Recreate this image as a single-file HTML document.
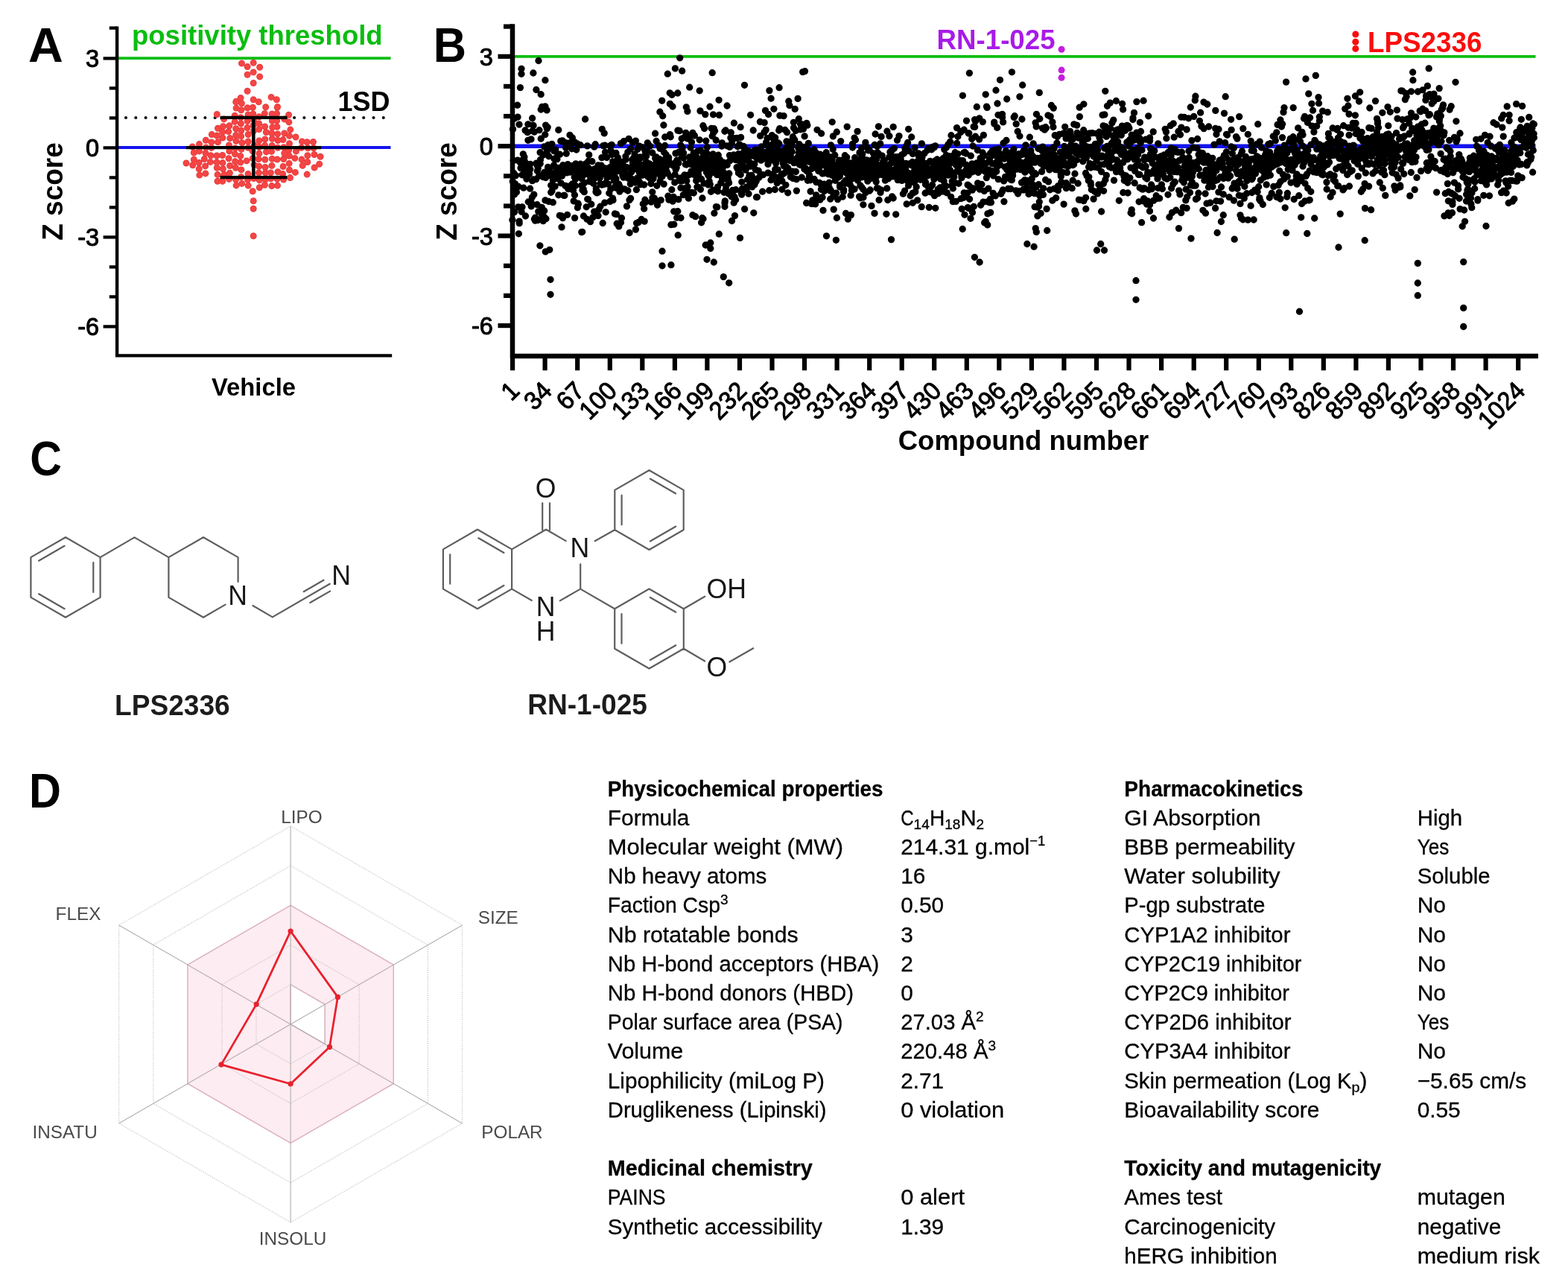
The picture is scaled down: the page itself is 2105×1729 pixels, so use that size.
<!DOCTYPE html>
<html lang="en"><head><meta charset="utf-8"><title>Figure: Z score screen, hit structures and LPS2336 properties</title>
<style>
html,body{margin:0;padding:0;background:#fff}
body{width:2105px;height:1729px;overflow:hidden;font-family:"Liberation Sans",Arial,Helvetica,sans-serif}
svg{display:block;position:absolute;left:0;top:0}
text{font-family:"Liberation Sans",Arial,Helvetica,sans-serif}
.b{font-weight:bold}
.tk{font-size:32.6px;stroke:#000;stroke-width:1px;stroke-linejoin:round}
.at{font-size:35.6px}
.at text{fill:#161616}
.rl{font-size:24.3px}
.rl text{fill:#4a4a4a}
.tb{font-size:29.6px;stroke:#000;stroke-width:.3px}
</style></head><body>
<svg width="2105" height="1729" viewBox="0 0 2105 1729">
<rect width="2105" height="1729" fill="#fff"/>
<g id="panelA"><line x1="158" y1="78.2" x2="524.5" y2="78.2" stroke="#0abd10" stroke-width="3.8"/>
<line x1="158" y1="198.1" x2="524.5" y2="198.1" stroke="#1414ee" stroke-width="4"/>
<line x1="169" y1="158" x2="523" y2="158" stroke="#111" stroke-width="4.2" stroke-linecap="round" stroke-dasharray="0 13.3"/>
<path d="M250 219h0M258.3 197h0M260.3 205h0M260.3 214.2h0M258.7 221.7h0M267.5 193.6h0M267.4 202.9h0M267.1 218.5h0M267.2 226.8h0M267.8 235.1h0M276.3 188.3h0M276.6 197.9h0M276 205.6h0M274.3 213.5h0M275.6 222.9h0M275.9 232.9h0M284.3 180.6h0M283.9 190.9h0M283.9 198.4h0M283 208.8h0M282.4 217.4h0M291.3 153.5h0M292.5 172.3h0M291.1 182.1h0M292.5 190.8h0M291 209h0M291 217.8h0M291.3 225.3h0M292.1 234.4h0M292 243.3h0M300.6 159.9h0M299.5 169.7h0M298.6 177.4h0M298.9 185h0M298.6 208.5h0M298.9 218.6h0M299.4 226.7h0M300.9 234.5h0M298.7 243.3h0M307.9 168.7h0M306.7 176.6h0M308.7 185.6h0M307.5 195h0M307.9 202.9h0M307.1 212.7h0M308.6 222.5h0M308.4 232.3h0M307.5 240.4h0M317 136.3h0M317.1 145.1h0M315.2 155.3h0M315.2 163.4h0M316.7 172.7h0M316.6 181.5h0M316.9 189.2h0M315.8 198.9h0M315.5 206.9h0M315.7 216.7h0M316.4 225.3h0M316.6 241h0M317.1 248.9h0M323.1 131.4h0M324.4 138.8h0M323.8 147.8h0M323.3 157.8h0M323.4 166h0M323.8 175.2h0M323.6 182.9h0M325 191.7h0M324 200.4h0M322.8 209.4h0M322.8 218.1h0M323.9 227.9h0M323.6 237.5h0M324.7 246.4h0M332.1 144.8h0M333.1 153.9h0M332.1 162.6h0M332 171.5h0M333.2 180.5h0M333.2 190h0M333.2 198.2h0M331.1 215.9h0M333.1 233.4h0M332.5 241.3h0M333.2 249.1h0M340.2 133.8h0M339.4 144.2h0M339.8 152.9h0M340.7 160.9h0M340.1 168.3h0M340.5 175.8h0M341.3 195.1h0M339.1 202.8h0M339.3 212.5h0M341 221.2h0M340.7 239.5h0M339.2 256.7h0M347.3 136.8h0M347.9 156.8h0M347.7 165.9h0M347.7 173.6h0M347.8 188.9h0M347.8 197.2h0M347.9 206.1h0M347.1 213.6h0M347.6 223.2h0M347.4 232h0M348.3 241.9h0M348.3 251.8h0M356.7 143.8h0M355.3 152.4h0M355.6 169.9h0M357.3 177.5h0M355.8 186.9h0M355.6 195.2h0M357.5 203.9h0M355.8 214.3h0M356.1 224.5h0M356.3 232h0M356.4 240.9h0M355.4 248.3h0M365.1 152.9h0M365.4 162.3h0M365.7 170.9h0M364.8 178.7h0M365.4 186.3h0M365.2 195.5h0M364.5 203.4h0M365.3 213.3h0M364.9 222.4h0M363.4 231.9h0M363.6 239.7h0M364.8 249.6h0M371.4 133.7h0M372.6 143.5h0M371.6 152.5h0M371.6 162.1h0M371.9 170.3h0M372.6 179.9h0M373 188.5h0M372.9 198.2h0M372.1 214h0M373 230.7h0M372.1 240.2h0M372.5 249.1h0M381.8 159.9h0M381.8 178.9h0M380 187.6h0M380.9 197.8h0M381.8 205.7h0M380.7 213.5h0M380.1 223.5h0M379.6 233.6h0M380.6 241h0M387.6 154.3h0M387.9 163.9h0M389.8 174.1h0M388.5 182.4h0M388.5 192.8h0M387.7 201.4h0M388.3 209.2h0M388.2 219.4h0M388.5 228.3h0M389.5 238.6h0M397 184h0M397.5 203.1h0M395.8 212.4h0M396.4 231.4h0M405.4 189.9h0M404.7 198.2h0M405 214.1h0M406.2 222.2h0M412.1 190.7h0M413.3 198.8h0M412.9 208.8h0M412.8 217.5h0M412.2 234.1h0M420.5 190.5h0M421 198.7h0M422 207.5h0M422.1 225h0M430.1 210.2h0M428.7 220.2h0M324.5 85.1h0M340.2 84.3h0M332.1 89.6h0M348.7 90.3h0M340.2 96.9h0M332.1 100.2h0M348.7 102.9h0M340.2 111.5h0M332.1 122.3h0M340.2 269.8h0M340.2 280.3h0M340.2 316.7h0M364.1 130.4h0M316.7 136.9h0M372.2 144.2h0" fill="none" stroke="#e13c3c" stroke-width="9" stroke-linecap="round"/><path d="M250 219h0M258.3 197h0M260.3 205h0M260.3 214.2h0M258.7 221.7h0M267.5 193.6h0M267.4 202.9h0M267.1 218.5h0M267.2 226.8h0M267.8 235.1h0M276.3 188.3h0M276.6 197.9h0M276 205.6h0M274.3 213.5h0M275.6 222.9h0M275.9 232.9h0M284.3 180.6h0M283.9 190.9h0M283.9 198.4h0M283 208.8h0M282.4 217.4h0M291.3 153.5h0M292.5 172.3h0M291.1 182.1h0M292.5 190.8h0M291 209h0M291 217.8h0M291.3 225.3h0M292.1 234.4h0M292 243.3h0M300.6 159.9h0M299.5 169.7h0M298.6 177.4h0M298.9 185h0M298.6 208.5h0M298.9 218.6h0M299.4 226.7h0M300.9 234.5h0M298.7 243.3h0M307.9 168.7h0M306.7 176.6h0M308.7 185.6h0M307.5 195h0M307.9 202.9h0M307.1 212.7h0M308.6 222.5h0M308.4 232.3h0M307.5 240.4h0M317 136.3h0M317.1 145.1h0M315.2 155.3h0M315.2 163.4h0M316.7 172.7h0M316.6 181.5h0M316.9 189.2h0M315.8 198.9h0M315.5 206.9h0M315.7 216.7h0M316.4 225.3h0M316.6 241h0M317.1 248.9h0M323.1 131.4h0M324.4 138.8h0M323.8 147.8h0M323.3 157.8h0M323.4 166h0M323.8 175.2h0M323.6 182.9h0M325 191.7h0M324 200.4h0M322.8 209.4h0M322.8 218.1h0M323.9 227.9h0M323.6 237.5h0M324.7 246.4h0M332.1 144.8h0M333.1 153.9h0M332.1 162.6h0M332 171.5h0M333.2 180.5h0M333.2 190h0M333.2 198.2h0M331.1 215.9h0M333.1 233.4h0M332.5 241.3h0M333.2 249.1h0M340.2 133.8h0M339.4 144.2h0M339.8 152.9h0M340.7 160.9h0M340.1 168.3h0M340.5 175.8h0M341.3 195.1h0M339.1 202.8h0M339.3 212.5h0M341 221.2h0M340.7 239.5h0M339.2 256.7h0M347.3 136.8h0M347.9 156.8h0M347.7 165.9h0M347.7 173.6h0M347.8 188.9h0M347.8 197.2h0M347.9 206.1h0M347.1 213.6h0M347.6 223.2h0M347.4 232h0M348.3 241.9h0M348.3 251.8h0M356.7 143.8h0M355.3 152.4h0M355.6 169.9h0M357.3 177.5h0M355.8 186.9h0M355.6 195.2h0M357.5 203.9h0M355.8 214.3h0M356.1 224.5h0M356.3 232h0M356.4 240.9h0M355.4 248.3h0M365.1 152.9h0M365.4 162.3h0M365.7 170.9h0M364.8 178.7h0M365.4 186.3h0M365.2 195.5h0M364.5 203.4h0M365.3 213.3h0M364.9 222.4h0M363.4 231.9h0M363.6 239.7h0M364.8 249.6h0M371.4 133.7h0M372.6 143.5h0M371.6 152.5h0M371.6 162.1h0M371.9 170.3h0M372.6 179.9h0M373 188.5h0M372.9 198.2h0M372.1 214h0M373 230.7h0M372.1 240.2h0M372.5 249.1h0M381.8 159.9h0M381.8 178.9h0M380 187.6h0M380.9 197.8h0M381.8 205.7h0M380.7 213.5h0M380.1 223.5h0M379.6 233.6h0M380.6 241h0M387.6 154.3h0M387.9 163.9h0M389.8 174.1h0M388.5 182.4h0M388.5 192.8h0M387.7 201.4h0M388.3 209.2h0M388.2 219.4h0M388.5 228.3h0M389.5 238.6h0M397 184h0M397.5 203.1h0M395.8 212.4h0M396.4 231.4h0M405.4 189.9h0M404.7 198.2h0M405 214.1h0M406.2 222.2h0M412.1 190.7h0M413.3 198.8h0M412.9 208.8h0M412.8 217.5h0M412.2 234.1h0M420.5 190.5h0M421 198.7h0M422 207.5h0M422.1 225h0M430.1 210.2h0M428.7 220.2h0M324.5 85.1h0M340.2 84.3h0M332.1 89.6h0M348.7 90.3h0M340.2 96.9h0M332.1 100.2h0M348.7 102.9h0M340.2 111.5h0M332.1 122.3h0M340.2 269.8h0M340.2 280.3h0M340.2 316.7h0M364.1 130.4h0M316.7 136.9h0M372.2 144.2h0" fill="none" stroke="#f64444" stroke-width="7.2" stroke-linecap="round"/>
<g stroke="#000" stroke-width="4.2" fill="none"><line x1="340.3" y1="157.8" x2="340.3" y2="238.2" stroke-width="4.6"/><line x1="295.5" y1="157.8" x2="385.5" y2="157.8"/><line x1="295.5" y1="238.2" x2="385.5" y2="238.2"/><line x1="250" y1="198.1" x2="431" y2="198.1"/></g>
<g stroke="#000" stroke-width="4.3" fill="none"><path d="M157.1 35.6V477.4H526.2" stroke-width="4.4"/><line x1="146.8" y1="37.6" x2="157.2" y2="37.6"/><line x1="138.6" y1="78.4" x2="157.2" y2="78.4"/><line x1="146.8" y1="118.4" x2="157.2" y2="118.4"/><line x1="146.8" y1="158.4" x2="157.2" y2="158.4"/><line x1="138.6" y1="198.4" x2="157.2" y2="198.4"/><line x1="146.8" y1="238.4" x2="157.2" y2="238.4"/><line x1="146.8" y1="278.4" x2="157.2" y2="278.4"/><line x1="138.6" y1="318.4" x2="157.2" y2="318.4"/><line x1="146.8" y1="358.4" x2="157.2" y2="358.4"/><line x1="146.8" y1="398.4" x2="157.2" y2="398.4"/><line x1="138.6" y1="438.4" x2="157.2" y2="438.4"/></g>
<text class="tk" text-anchor="end" transform="translate(133.2 90.2) scale(1 1.04)">3</text>
<text class="tk" text-anchor="end" transform="translate(133.2 210.2) scale(1 1.04)">0</text>
<text class="tk" text-anchor="end" transform="translate(133.2 330.2) scale(1 1.04)">-3</text>
<text class="tk" text-anchor="end" transform="translate(133.2 450.2) scale(1 1.04)">-6</text>
<text class="b" font-size="36.5" fill="#0abd10" x="177" y="59.5">positivity threshold</text>
<text class="b" font-size="36" text-anchor="end" transform="translate(523.5 148.7) scale(1 1.04)">1SD</text>
<text class="b" font-size="32.8" text-anchor="middle" transform="translate(340.5 530.7) scale(1 1.02)">Vehicle</text>
<text class="b" font-size="37" text-anchor="middle" transform="translate(83.5 257) rotate(-90) scale(1 1.03)">Z score</text>
<text class="b" font-size="62.3" transform="translate(38 82.7) scale(1.04 1.055)">A</text></g>
<g id="panelB"><line x1="689" y1="75.8" x2="2061.5" y2="75.8" stroke="#0abd10" stroke-width="3.8"/>
<line x1="689" y1="196.2" x2="2061.5" y2="196.2" stroke="#1414ee" stroke-width="5.5"/>
<path d="M688.3 243.5h0M687.9 295.2h0M688.5 173.4h0M689.6 259.8h0M689.6 232.3h0M689.2 215.5h0M690.4 159.2h0M690.7 260.9h0M690.6 284.6h0M691.7 246.8h0M692.4 235.6h0M692.1 253.8h0M693.1 250.5h0M693.2 252.3h0M693.4 257.9h0M694.8 215.2h0M695 157.1h0M694.6 141.2h0M696 250.5h0M696.4 313.8h0M695.7 277.8h0M697 167.1h0M697.1 297.1h0M697.2 299.7h0M699 225.6h0M698.4 218.2h0M698.4 117.6h0M698.7 215.9h0M699.7 217.4h0M700 92.3h0M700.1 284.3h0M700.9 234.8h0M701.4 234.8h0M701 277.9h0M702.9 252.2h0M702.6 219h0M702.3 206.8h0M704.1 229.6h0M703.9 210.7h0M704.2 216.1h0M705.1 175h0M705 226.2h0M705.5 290h0M706.9 240.3h0M706.5 223.1h0M706.3 223.6h0M708.1 235.9h0M708.2 177.7h0M707.7 233.7h0M708.9 166.8h0M709.2 220.9h0M708.9 188.3h0M709.3 271h0M710.7 270.9h0M710.4 224.4h0M710.6 233.4h0M711.8 220.3h0M711.6 253.2h0M711.8 227.2h0M713.2 276.9h0M713 186.9h0M713.2 271.7h0M714.4 264.7h0M714.6 158.7h0M714.6 242.7h0M714.7 175.8h0M716 241h0M716.1 168.5h0M715.5 168.1h0M715.9 98h0M717.3 177.1h0M717.4 294.1h0M716.8 261.1h0M718.7 294.6h0M718.5 296.2h0M718.7 292.1h0M719.9 219.2h0M719.6 240.7h0M719.9 120.5h0M721 221.8h0M721.1 274.7h0M721.4 229.5h0M722.3 225.8h0M722.8 283.9h0M722.2 295.5h0M723.9 236.1h0M723.4 236.5h0M724 174.7h0M725.2 219.7h0M725.1 204.6h0M725.5 214.5h0M726.2 126.7h0M726.2 147h0M726.2 186.2h0M727.8 143.3h0M727.3 278.4h0M727.6 288.8h0M729.2 296.6h0M728.9 208.3h0M729.4 237.6h0M730.7 283h0M730.7 291.4h0M730.6 196.9h0M730.6 231.5h0M732 143h0M732 268.9h0M731.8 180.7h0M731.9 107.7h0M732.6 238.5h0M732.6 168.1h0M733 293.7h0M733.2 231h0M734.3 203.2h0M734.1 147.9h0M734.3 172.7h0M735.8 194.6h0M735.2 170.8h0M735.6 224.4h0M736.6 270.5h0M737.1 227.2h0M736.7 209.8h0M737.9 235.4h0M738.5 225.5h0M738.4 195.8h0M739.7 248.8h0M739.7 258.3h0M739.5 198h0M740.7 235h0M741 256.4h0M740.9 193.3h0M742.3 271.7h0M742.3 241.8h0M742.3 233.5h0M743.9 213.1h0M743.7 202.7h0M743.9 232.8h0M743.6 221.8h0M745.1 238.5h0M745.2 250.1h0M744.9 233.9h0M745.8 200.9h0M746 233.5h0M746.2 232.2h0M746.3 230.7h0M747.4 228.5h0M747.3 231.5h0M747.9 213.7h0M748.8 208h0M749.1 225.4h0M748.5 239.6h0M749.8 261.8h0M749.8 174.5h0M750.1 233.1h0M751.3 289.3h0M751.1 228.6h0M751.6 207.2h0M752.4 231.1h0M753.1 245.8h0M752.8 189.4h0M754 304.9h0M753.8 290h0M754.5 236.2h0M755.7 221.7h0M755.5 292.6h0M755.2 189h0M756.5 232.6h0M756.7 232.6h0M757 262.4h0M756.5 225.4h0M758.3 226.9h0M758.1 225.2h0M758 191.1h0M757.9 262.5h0M759.7 231.4h0M759 249.4h0M759.5 198.2h0M760.3 206.1h0M761.1 231.8h0M760.7 195.5h0M762.2 220.6h0M761.6 288.3h0M761.8 229.4h0M763.4 250.2h0M763.2 192.1h0M762.9 253.7h0M764.9 231.2h0M765 181.3h0M765 222.9h0M765.9 223h0M766 222.6h0M766.3 252.7h0M767.2 192h0M766.9 192.6h0M767.6 199.8h0M768.4 246.9h0M768.7 229.1h0M768.4 185h0M770.2 269.9h0M769.5 255.5h0M769.7 226.4h0M769.9 222.3h0M771.5 261.7h0M771.6 190.8h0M771.2 237.8h0M771.6 292.6h0M772.9 219.8h0M772.5 240.5h0M772.5 225.3h0M772.5 249.2h0M773.8 201h0M774.1 229.8h0M774.1 229h0M775.4 278.7h0M775.5 230.1h0M775.1 193h0M776.4 274.3h0M776.8 222.3h0M776.5 237.3h0M776.1 273.2h0M777.5 227.9h0M777.7 231.6h0M777.7 228h0M779.3 220.2h0M778.9 231.4h0M779.2 194.7h0M780.6 249h0M780.6 222.6h0M780.8 311.6h0M780.8 239.7h0M781.7 311.3h0M781.6 237.6h0M782 255.3h0M783.1 228.7h0M783.5 290h0M783.2 253.8h0M784.6 245.5h0M784.6 222.6h0M784.2 230.9h0M784.3 257.7h0M785.6 160h0M785.4 233.6h0M786.1 220h0M787 228.4h0M787.2 277.8h0M786.9 230.4h0M787.1 227h0M788.5 195.9h0M788.7 267.3h0M788.3 233.3h0M788 294.2h0M789.9 225.3h0M789.8 216.5h0M789.5 267.6h0M790.7 207.9h0M791.2 243.5h0M791.1 228.1h0M792.5 297.7h0M792.3 236.6h0M792.6 232.3h0M793.8 274.2h0M793.8 231.1h0M793.4 243.6h0M795 229h0M795.4 231.7h0M794.9 216.7h0M796.3 235.4h0M796.6 246.3h0M795.9 291.8h0M797.8 197.2h0M797.7 284.1h0M797.3 231.9h0M797.9 226.9h0M799.3 231.7h0M799.2 193.7h0M799.2 238.6h0M800.4 236.5h0M800 257.6h0M800.3 253.1h0M801.4 258.9h0M801.9 234.4h0M801.4 231h0M803.1 221.8h0M803 289.6h0M803 258.2h0M803.9 281.4h0M804.2 233.3h0M804.1 230.6h0M803.9 236h0M805.9 277.2h0M805.8 246.6h0M805.2 239h0M805.3 232.6h0M807.1 229.3h0M807.1 222.1h0M806.8 227.5h0M808.3 173.4h0M807.9 211.6h0M808.1 248.2h0M809.9 195.6h0M809.9 233.1h0M809.2 299.5h0M811.2 178.9h0M811.2 228.6h0M810.9 247.4h0M810.6 228.4h0M811.8 272.1h0M812 195.1h0M812.4 225.9h0M812.5 204.3h0M813.5 234.7h0M813.6 245h0M813.2 284.8h0M814.9 230.7h0M814.6 211.5h0M814.7 227.4h0M815 238.3h0M816.3 237.7h0M816.2 236.2h0M816.5 247.1h0M817.3 237.2h0M817.8 259.3h0M817.4 234.5h0M819 270.4h0M818.9 226.5h0M819 195.7h0M818.7 224.7h0M820 202.1h0M819.8 254h0M819.8 236.1h0M821.2 194.3h0M821.8 225h0M821.5 207.5h0M823 268.7h0M822.8 220.1h0M822.5 266.1h0M822.7 216.8h0M823.9 229.1h0M824 222.4h0M824.3 242.4h0M825.2 237.1h0M825.4 287h0M825.4 250.8h0M826.9 252.1h0M827 240h0M827 205.5h0M828.2 300.2h0M827.7 226.1h0M827.6 287.7h0M829.3 229.6h0M829.4 211.6h0M829.7 215.7h0M829.4 218.4h0M830.9 216.1h0M830.8 247.2h0M830.8 303.9h0M831 220.4h0M832.3 222.1h0M831.9 257.1h0M832.1 250.4h0M833.1 218.5h0M833.5 298.8h0M833.4 192.6h0M834.3 230.1h0M834.7 225.4h0M834.6 217.5h0M834.5 292.7h0M836 231.7h0M835.7 223.6h0M835.8 235.6h0M836.9 222.3h0M837.5 189.6h0M836.9 233.7h0M837 238.1h0M838.2 236.4h0M838.6 229.7h0M838.4 253.8h0M839.9 210h0M840.1 214.2h0M839.8 237.3h0M841.3 236.3h0M841.5 276.9h0M841.4 224.7h0M842.4 238.8h0M842.9 256h0M842.8 204.2h0M843.9 235.3h0M844.1 186.3h0M844.1 235.5h0M845.1 312.5h0M845 268.6h0M845.5 240.8h0M846.6 266.4h0M846.4 246.9h0M846.5 200h0M847.7 239.8h0M847.6 230.9h0M848.2 223.9h0M848.9 214.2h0M849.3 191.3h0M849.4 217.7h0M850.5 212.4h0M850.3 220.6h0M850.6 223.3h0M851.6 227h0M852 207.1h0M851.8 222.6h0M852 224.2h0M853.4 189.1h0M853.2 245.2h0M853.4 308.1h0M854.4 254.7h0M854.6 299.6h0M854.4 220.8h0M855.8 225h0M855.8 218.1h0M855.8 200.4h0M855.6 239h0M857.1 298.5h0M856.7 224.3h0M857.2 228.7h0M858.2 221.6h0M858.3 196.1h0M858.3 243.9h0M858.3 231.5h0M859.4 212.7h0M859.9 247.7h0M859.3 211h0M861.1 294.5h0M861.2 221.5h0M860.8 232.7h0M862.5 235.3h0M862.3 197.8h0M861.9 235.2h0M862.2 229.2h0M863.3 223.7h0M863.4 225.2h0M863.3 273.8h0M865.2 297.1h0M864.7 280.2h0M864.7 248h0M864.8 209.7h0M865.9 268.2h0M866 202.7h0M866 271.9h0M867.5 228.1h0M867.6 209.7h0M867.5 217.2h0M868.6 203h0M868.5 232.5h0M869.3 191.8h0M870.4 193.8h0M869.9 237.3h0M870 224.4h0M871.8 233.7h0M871.4 237h0M871.9 219.8h0M872.5 196.1h0M872.7 239.4h0M873.1 230.5h0M872.6 230.1h0M874 224.8h0M874.2 271.1h0M873.9 246.5h0M875.9 265.6h0M875.6 235.7h0M875.8 257.8h0M875.8 205.2h0M876.4 233h0M877.2 238.7h0M876.7 227.9h0M876.6 240.3h0M878.4 266h0M877.8 223.4h0M878.4 234h0M879.8 268.5h0M879.1 220.7h0M879.7 212.6h0M879.6 179.2h0M881.1 230.8h0M881.1 210.9h0M880.6 221.6h0M881.1 189.5h0M881.9 249.3h0M882.2 231.8h0M882.5 275.3h0M883.3 230.4h0M883.6 232.7h0M883.4 218.1h0M884.6 195.5h0M884.8 221.7h0M885 213.4h0M886.1 199.4h0M886.1 243.4h0M885.9 150.2h0M887.2 268.6h0M887.4 237.6h0M887.5 230.8h0M887.2 237.3h0M888.7 221.5h0M888.5 224.9h0M889.1 236.7h0M888.7 135.1h0M889.7 155.7h0M890.3 232.2h0M890.1 224.2h0M891.4 204.3h0M891.5 214.6h0M890.9 168h0M891.2 247.1h0M892.6 217.4h0M892.7 195.5h0M892.3 219.9h0M892.7 184h0M894 207.3h0M893.6 229.8h0M893.7 229.9h0M895 222.4h0M895 223.3h0M895 230.1h0M896.9 263.2h0M896.3 99.2h0M896.4 233h0M896.6 216.7h0M897.9 268.1h0M897.8 215.9h0M897.7 211.5h0M899.4 180.6h0M899.4 139.4h0M899.2 124.8h0M900.9 301.7h0M900.3 237.7h0M900.2 183.8h0M902.1 127.3h0M902.3 221.1h0M901.8 254.7h0M903 143h0M903.1 270.2h0M903.6 222.3h0M902.9 265h0M904.2 264.3h0M904.7 283.8h0M904.8 301.2h0M906.1 234.2h0M906.2 218.8h0M905.8 244.9h0M907.3 220.5h0M907.3 223.1h0M907.2 227.4h0M907 205.9h0M908.7 292.2h0M908.9 215.1h0M908.2 224.9h0M908.1 216.8h0M910.2 315.7h0M909.8 125h0M909.8 283.7h0M909.9 175.1h0M910.9 267.7h0M911.3 204.2h0M910.8 218.9h0M912.3 239.2h0M912.8 242.8h0M912.2 175.6h0M914 292.5h0M914 252.2h0M913.7 194.9h0M915.4 197.5h0M915.2 186.1h0M915.4 210.1h0M916.1 198.9h0M916.1 238.4h0M916.1 242.8h0M917.6 205.4h0M917.5 212.3h0M917.3 261.6h0M919 252.8h0M919.1 184.1h0M918.7 238.8h0M919 234.8h0M920.3 220.7h0M920.7 178.3h0M920.4 254.7h0M921.8 220.2h0M921.4 221h0M921.3 143.8h0M921.8 242.8h0M922.9 149.4h0M922.7 260.2h0M922.8 186h0M923.1 250.7h0M924.4 266.2h0M924.6 258.7h0M924.3 234.9h0M925.9 184h0M925.7 117.2h0M925.5 210.9h0M925.7 217.7h0M927 220.3h0M927 198.2h0M927.1 233.8h0M928.5 190.8h0M928.4 258.4h0M928.1 229.9h0M929.9 178.3h0M929.9 288.7h0M929.7 216.5h0M931.2 205.3h0M931.3 259h0M931.3 234.2h0M932.4 182h0M931.9 209.9h0M932 223.1h0M933.5 221.5h0M933.3 226.4h0M933.6 290.7h0M934.7 242.6h0M934.6 210.2h0M935 217.9h0M935.1 238.6h0M935.9 251h0M936.2 203.2h0M936.6 225.5h0M936.1 212.8h0M937.8 228.6h0M937.5 251.3h0M937.7 234.9h0M938.6 228.1h0M939.1 187.8h0M939.2 121.8h0M940.4 254.3h0M940 148.9h0M940.4 201.9h0M941.6 240.5h0M941.2 214.7h0M941.6 298.8h0M942.9 266h0M943 221h0M942.8 292.6h0M944.1 208.7h0M943.9 168.7h0M944 293.8h0M945.1 246.2h0M945.4 207.1h0M945.2 225.5h0M945.6 172.5h0M947.1 205.1h0M947.1 217.4h0M946.8 153.6h0M946.4 211.3h0M948.4 231.1h0M947.8 222.1h0M947.8 189.1h0M949.7 227.4h0M949.2 206h0M949.4 197.7h0M950.5 222.1h0M950.6 234.9h0M950.7 248h0M951.8 236.4h0M952.2 243.2h0M952.3 222.4h0M953.1 217.8h0M953 143.2h0M953.3 247.5h0M953.2 213.6h0M954.9 223.4h0M954.5 257.3h0M955 172.3h0M955.8 231.8h0M956.2 97.7h0M956.2 182.7h0M957.7 178.2h0M957.5 255.1h0M957.5 153.8h0M957.2 206.9h0M958.5 210.8h0M958.9 286.2h0M958.3 172.6h0M960 222.2h0M960 228.7h0M959.6 175.8h0M961.2 217.7h0M961.4 277.6h0M961.2 188.2h0M962.8 223.9h0M962.6 234.6h0M962.8 278h0M964.3 208.2h0M963.9 210.9h0M963.6 250.9h0M963.7 256.8h0M965.3 314.2h0M965.5 154.5h0M965.1 134.3h0M966.9 232.6h0M966.2 232.6h0M966.4 214.4h0M967.8 230h0M968.1 221.5h0M967.8 245.4h0M969.5 239.7h0M969.3 191.9h0M968.9 196.1h0M970.5 224.5h0M970.4 230.3h0M970.8 217.8h0M971.5 240.2h0M972.2 232.4h0M972 258.3h0M972.9 176.3h0M973 272.4h0M973 277.3h0M973.3 269.9h0M974.2 175h0M974.4 254.4h0M974.7 250h0M976.2 221.4h0M976.1 142h0M976 195.8h0M976.8 218.5h0M977.4 241.7h0M977 237.9h0M978.6 245.4h0M978.8 233h0M978.1 260h0M979.7 215.9h0M979.5 208.6h0M980 208.8h0M979.6 197.4h0M981.3 178h0M980.9 185.1h0M981.2 214h0M982.5 296.5h0M982.6 191.6h0M982.1 264h0M983.6 255.4h0M983.9 262h0M983.9 212h0M984.9 208h0M985.2 272.2h0M985.2 185.6h0M985.4 165.2h0M986.7 214.1h0M986.5 289.6h0M986.1 264.4h0M987.6 268.2h0M988 214.7h0M987.8 254.7h0M989.2 185.4h0M989.1 224.6h0M988.8 213.8h0M990.3 196.8h0M990.2 226.8h0M990.2 211.5h0M991.3 206.7h0M992 215.6h0M991.4 232.2h0M992.7 224.4h0M992.9 227.4h0M992.6 193.9h0M992.8 215.6h0M994.6 184.4h0M994.1 170.7h0M994.6 212.8h0M994.2 234.4h0M995.7 261.1h0M995.7 221.3h0M995.3 259h0M995.8 244.3h0M996.5 196.2h0M996.5 253.4h0M996.6 217.9h0M997.2 217.5h0M998.2 196.5h0M998.2 204.6h0M998.6 207.2h0M999.6 280.6h0M999.5 114.3h0M999.9 208.3h0M1001.1 201.2h0M1000.8 224.6h0M1000.6 208h0M1001.1 228.1h0M1002.3 251h0M1002.3 210.9h0M1002.1 254.7h0M1003.5 205.9h0M1003.6 241h0M1003.5 208.6h0M1004.9 216.2h0M1005.2 202.8h0M1005 260.2h0M1006.3 204.2h0M1005.9 235.7h0M1006 217.7h0M1007.3 223.3h0M1007.6 154.3h0M1007.6 246.3h0M1008.7 219.6h0M1008.9 235.3h0M1008.7 243.2h0M1009.8 250.9h0M1009.8 209h0M1010.3 238.4h0M1011.2 175h0M1011 203.9h0M1011.7 207.8h0M1011.8 285.8h0M1012.8 205.4h0M1012.9 220.1h0M1013.1 247.6h0M1014.3 227.8h0M1013.9 200.8h0M1014.3 204.9h0M1015.5 264.7h0M1015.4 211.7h0M1015.3 243.1h0M1016.4 264.6h0M1016.4 213.2h0M1016.4 208.6h0M1018.3 229.2h0M1018.4 210.2h0M1017.7 209.7h0M1019.4 202.1h0M1019 238.2h0M1019.6 203.7h0M1021 234.6h0M1020.4 163.5h0M1020.7 182.4h0M1022.2 197h0M1021.7 215.1h0M1022.3 210h0M1023.6 257.2h0M1023.1 206.8h0M1023 205.5h0M1024.4 234.7h0M1024.8 213.4h0M1024.4 212.1h0M1025.8 210.4h0M1026.1 177.4h0M1026.2 164.6h0M1027.6 204.5h0M1027.1 205.7h0M1027.5 148.4h0M1028.5 191.2h0M1028.2 174.4h0M1028.7 211.4h0M1030 185.6h0M1029.7 212.6h0M1029.8 206.6h0M1031 220.4h0M1031.6 153.5h0M1031.1 232.1h0M1031.3 196.4h0M1032.5 197.2h0M1032.8 216.8h0M1032.9 121.6h0M1032.7 255.7h0M1033.8 204.9h0M1033.5 203.7h0M1033.8 214.2h0M1035 241.7h0M1035.4 184h0M1035.1 132.2h0M1036.2 214h0M1036.3 181.6h0M1036.7 194h0M1036.5 239.6h0M1038.1 233.5h0M1038.2 202.8h0M1038.1 203.7h0M1039.3 209.4h0M1039.2 187.3h0M1038.9 146.3h0M1040.4 210.5h0M1040.3 254.5h0M1040.7 227.2h0M1040.7 184.7h0M1041.8 204.4h0M1041.6 219.1h0M1041.7 213.9h0M1043.2 245.7h0M1043.4 200h0M1043.1 201.5h0M1044.3 227.8h0M1044.2 238.3h0M1044.6 191.8h0M1046.1 117.7h0M1045.9 193.1h0M1045.8 213h0M1045.7 175h0M1046.9 155.1h0M1047 210.4h0M1046.7 172.6h0M1048.2 236.2h0M1048.5 205.9h0M1048.7 206.5h0M1049.9 254.3h0M1049.8 242.9h0M1049.7 203.4h0M1051.3 233.4h0M1051.3 219.2h0M1050.6 204.4h0M1052.1 155.6h0M1052.2 222.6h0M1052.5 217.7h0M1052.4 207.9h0M1053.8 231.8h0M1053.6 214.5h0M1053.9 174.5h0M1053.9 223.4h0M1054.7 199.9h0M1054.9 248.3h0M1054.7 214.9h0M1055 198.6h0M1056.6 177.7h0M1056 226.8h0M1055.9 189.8h0M1056.1 224.3h0M1057.3 208.3h0M1057.7 214.6h0M1057.8 225.8h0M1057.7 258.8h0M1059 214.3h0M1058.8 136h0M1058.9 198.4h0M1059.9 141.5h0M1060.1 229.6h0M1060.3 215.5h0M1060.3 190.2h0M1061.4 237.4h0M1061.2 204.9h0M1061.3 209.5h0M1061.5 198h0M1063.2 203.7h0M1062.8 196.1h0M1062.7 203.9h0M1063.2 194.7h0M1064 230.2h0M1064.6 239.4h0M1064.4 183.7h0M1065.9 218.6h0M1065.3 185.8h0M1065.5 171.6h0M1065.4 164.3h0M1066.5 214.7h0M1067.2 146.4h0M1066.8 187.9h0M1068.2 175.4h0M1068 216h0M1068.4 215.4h0M1068.4 230.5h0M1069.6 213.6h0M1069.4 256.1h0M1069.3 240.7h0M1070.5 211.5h0M1070.7 213.2h0M1071.1 132.4h0M1072.3 205.2h0M1072.3 159.6h0M1071.9 198.9h0M1071.9 210.6h0M1073.5 219.8h0M1073.3 221h0M1073.1 193.7h0M1074.9 200.3h0M1074.5 166.4h0M1074.4 173.9h0M1075.1 221.7h0M1076.3 238.2h0M1076.3 199.6h0M1076.1 170.2h0M1077.6 215.4h0M1077.7 96.6h0M1077.4 167.2h0M1078.5 173.1h0M1078.4 197.3h0M1079.1 199.7h0M1080.1 182.9h0M1079.9 227h0M1080.3 210.1h0M1079.7 207.1h0M1081.1 225.6h0M1081.1 217.2h0M1081.5 213.1h0M1082.9 165.4h0M1082.6 272.5h0M1082.9 229.5h0M1084.3 200.5h0M1083.9 168.2h0M1084.3 242.3h0M1085.3 192.4h0M1085.3 216.1h0M1085.6 206h0M1086.6 213.6h0M1086.4 237.7h0M1086.6 235h0M1086.3 217.2h0M1088.3 214.9h0M1088.3 205.1h0M1088.1 257h0M1087.9 241.8h0M1089.5 214.6h0M1089.2 273.4h0M1089.6 226.5h0M1090.4 273.5h0M1090.8 268.8h0M1090.7 203.6h0M1090.2 219.2h0M1092.3 213.8h0M1092.2 207.8h0M1091.9 223.2h0M1093.2 267.9h0M1093 240.4h0M1092.9 200.7h0M1094.3 203.6h0M1094.9 204.3h0M1094.7 222.9h0M1094.6 273.9h0M1095.8 244.5h0M1096.1 213.7h0M1095.7 261.8h0M1097 226.2h0M1096.9 221.5h0M1097 174.3h0M1098.5 212.4h0M1098.8 229.5h0M1098.2 217.3h0M1099.8 225.4h0M1100.1 245.3h0M1099.6 208h0M1100.9 216.9h0M1101 220.7h0M1100.9 268.2h0M1101 207.2h0M1102.6 248.5h0M1102.6 179.2h0M1102.4 254.3h0M1103.8 264.6h0M1103.7 221.1h0M1104 264.9h0M1104.1 233h0M1105.4 214.3h0M1105 282.4h0M1105.5 218.2h0M1105 250h0M1106.2 232.7h0M1106 211.8h0M1106.3 247.2h0M1106.7 256.5h0M1107.4 218.5h0M1107.6 221.1h0M1107.6 215.3h0M1108.1 214.2h0M1109.5 224.1h0M1109.3 249.2h0M1109.2 204.7h0M1110.8 220.7h0M1110.1 214.7h0M1110.2 227.1h0M1112.1 233.8h0M1111.8 229.7h0M1111.9 215.1h0M1111.9 221.5h0M1113.3 252h0M1113.4 254.5h0M1113.1 245.2h0M1114.4 256h0M1114.7 267.2h0M1114.1 226h0M1114.2 210.8h0M1116 231.2h0M1115.5 255.9h0M1115.4 194.8h0M1117 235.3h0M1117 210.6h0M1117.2 214.5h0M1117.2 163.8h0M1118.6 263.5h0M1118.4 228.3h0M1118.4 182.9h0M1118.2 200.4h0M1120 231.5h0M1119.3 221.2h0M1119.2 281.1h0M1121.3 242.3h0M1120.8 208.2h0M1120.8 233.9h0M1122.5 222.5h0M1122.7 259.2h0M1122.1 225.7h0M1123.2 235.1h0M1123.3 177.2h0M1123.4 292.5h0M1124.5 226h0M1125.3 238.2h0M1124.6 267.6h0M1126.5 216.1h0M1126.6 215.2h0M1126 218.6h0M1127.6 248.6h0M1127.4 236.6h0M1127.5 229.5h0M1127.5 251h0M1128.7 189.6h0M1128.7 227.1h0M1128.6 222h0M1130.5 215.1h0M1130 231.1h0M1130.4 222.7h0M1131.4 221.8h0M1131.2 264.2h0M1131.2 216.1h0M1133.1 222.1h0M1132.6 245.3h0M1132.7 254.8h0M1132.5 257.2h0M1133.8 225.4h0M1134.3 208.7h0M1133.8 224.1h0M1135.1 242.4h0M1135.2 246.2h0M1135.5 286.5h0M1136.5 216.9h0M1136.7 211.1h0M1137.2 170.1h0M1136.8 232.8h0M1138 219.9h0M1137.8 224.8h0M1138.4 294.1h0M1139.5 224.3h0M1139.8 229.6h0M1139.1 238.7h0M1140.6 233h0M1141.1 247.7h0M1140.5 222.3h0M1142.4 288.6h0M1142.1 262.2h0M1141.9 218.9h0M1143.5 255.7h0M1143 224.2h0M1143.7 240.3h0M1143.6 251.8h0M1145 226.2h0M1144.5 198h0M1144.5 193.3h0M1145.8 232.5h0M1146.4 232.6h0M1145.9 218.8h0M1147.1 253.9h0M1147.1 185.1h0M1147.6 211.7h0M1148.6 235.8h0M1149.1 233.2h0M1148.5 187.8h0M1148.4 233.7h0M1150.3 222h0M1150.1 215.5h0M1149.7 221.2h0M1151.4 223.2h0M1151.1 176.4h0M1151.5 242.1h0M1152.5 217.8h0M1152.7 231h0M1152.9 230.4h0M1152.9 222.3h0M1153.8 216.5h0M1153.6 214h0M1154 204.9h0M1153.6 263.9h0M1154.9 249h0M1155.5 231.4h0M1154.9 265.8h0M1156.6 198.7h0M1156.9 237.9h0M1156.9 251.5h0M1157.8 206.5h0M1157.7 211.6h0M1158.1 216.2h0M1158 224.5h0M1158.9 254.3h0M1159 265h0M1158.9 274.8h0M1160.6 223.3h0M1160.9 236.5h0M1160.4 228.6h0M1161.9 191.4h0M1162 258.6h0M1161.7 234.6h0M1163.4 227.2h0M1163.4 214.8h0M1163.5 236.9h0M1164.5 198.5h0M1164.5 240.4h0M1164.8 243.1h0M1166 237.1h0M1165.8 201.9h0M1165.8 241.3h0M1166.1 232.9h0M1167.2 256.2h0M1167.3 226.6h0M1167 216h0M1167.2 201.5h0M1168.1 219.6h0M1168.7 231.1h0M1168.4 239.9h0M1168.2 255h0M1169.8 219.8h0M1170 276.4h0M1169.5 222.3h0M1170.9 218.8h0M1171.4 230.1h0M1171 232.5h0M1172.6 212.7h0M1172.4 205.8h0M1172.6 233.8h0M1172.6 219.4h0M1174.1 194.5h0M1174.1 218h0M1174 286.4h0M1175.2 227.4h0M1175.1 180h0M1175 217.8h0M1175.1 237.4h0M1176.2 244.1h0M1176.7 213.7h0M1176.5 220.7h0M1176.6 237.1h0M1178 204.9h0M1177.6 196.5h0M1177.3 233.6h0M1177.3 252.7h0M1178.6 222.3h0M1179.4 206.2h0M1179.4 169.8h0M1179 252.8h0M1180.4 221.8h0M1180.2 225h0M1180.1 268.5h0M1180.6 234.2h0M1182 258.4h0M1181.7 192.8h0M1181.5 224h0M1183.1 183.4h0M1182.6 254.9h0M1183.2 228.9h0M1184.2 209.1h0M1184.1 223.7h0M1184.5 234.6h0M1185.7 224h0M1185.7 216.6h0M1185.9 229.6h0M1186.7 215.2h0M1186.6 227.8h0M1187.3 215.4h0M1188.4 233.2h0M1188.6 226h0M1188.4 242.2h0M1190 222.4h0M1189.9 287.3h0M1189.2 228.3h0M1189.5 222.5h0M1190.5 225.2h0M1190.9 176.2h0M1190.7 252.9h0M1192.3 233.2h0M1192.4 239.9h0M1191.8 268.5h0M1193.9 182.6h0M1193.8 227h0M1193.8 210.9h0M1193.8 230.7h0M1194.5 237.5h0M1194.9 204.1h0M1195.1 203.9h0M1196.5 210.2h0M1195.8 219.5h0M1196.5 209.8h0M1195.9 204.6h0M1197.5 228.7h0M1197.6 263.8h0M1197.5 201.6h0M1199.2 170.4h0M1198.4 236.9h0M1199.2 266h0M1200.1 216.2h0M1200.4 199.3h0M1199.8 233.5h0M1201.7 232.2h0M1201.5 215.5h0M1201.6 228.6h0M1201.7 215h0M1202.7 287.8h0M1202.5 210.6h0M1203.1 225.9h0M1204.1 222.9h0M1204.5 188.2h0M1204.4 232h0M1204.1 228.9h0M1205.3 236.8h0M1205.6 221.6h0M1205.2 241.6h0M1207 182.6h0M1206.6 217.2h0M1206.7 210.3h0M1208 211.7h0M1208.4 216.8h0M1207.9 237.6h0M1209.3 214.2h0M1209.2 236.1h0M1209.1 233h0M1210.6 207.9h0M1210.7 226.1h0M1210.3 225.3h0M1210.7 242.4h0M1211.9 231.9h0M1212.1 226.8h0M1212.4 260.2h0M1213.5 206h0M1213.2 225.8h0M1213.7 239.2h0M1214.9 229.6h0M1215 199.4h0M1214.6 256.1h0M1214.4 221.9h0M1215.8 227.9h0M1216.4 233.2h0M1216.1 219.4h0M1217.1 222h0M1217.1 195.2h0M1217.1 238.6h0M1217.2 273.9h0M1218.7 243.4h0M1218.6 191.5h0M1218.5 235.6h0M1220 202.6h0M1219.6 249.2h0M1220 232.7h0M1219.6 173.3h0M1221.3 236h0M1221.3 233.9h0M1221.4 232.9h0M1222.4 236.9h0M1222.2 262.8h0M1222.2 219.3h0M1222.2 235h0M1223.7 184h0M1223.5 221.8h0M1224.3 243.8h0M1224.9 217.5h0M1225.2 259.4h0M1225.3 272.3h0M1225.4 206.5h0M1226.7 220.8h0M1226.2 234.9h0M1226.6 241.8h0M1226.7 244.7h0M1228.2 198.3h0M1228.2 243.3h0M1228 258h0M1227.9 228.2h0M1229.5 231.3h0M1229.3 230h0M1228.8 257.4h0M1230.5 229.8h0M1230.9 217.3h0M1230.2 250.9h0M1231.9 217.9h0M1231.6 268.9h0M1231.6 218.2h0M1233.4 223.7h0M1233.5 210.2h0M1233 205.8h0M1234.4 230.4h0M1234.5 219.2h0M1234.1 237.1h0M1235.7 227.5h0M1235.6 238.6h0M1235.7 241.3h0M1237.4 192.9h0M1237.2 277.6h0M1236.9 225.3h0M1236.7 235.2h0M1238.2 216.5h0M1238 210.9h0M1238.1 228.4h0M1238.5 240.4h0M1240.1 235.4h0M1239.6 229.4h0M1239.8 224.3h0M1241.2 205.6h0M1240.8 241.5h0M1240.9 230.9h0M1242.6 244.9h0M1242.1 259.2h0M1242.5 247.4h0M1243.9 227.2h0M1243.5 219.8h0M1243.9 231.2h0M1243.7 231.3h0M1245.2 235.9h0M1244.6 219.3h0M1244.9 201.8h0M1246.2 199.2h0M1246.5 227.1h0M1246.3 251.1h0M1247.5 230.7h0M1247.3 253.8h0M1247.3 278.4h0M1249.3 234.6h0M1248.9 257.8h0M1248.6 216.4h0M1249.2 231.4h0M1250 232.4h0M1250 250.2h0M1250.7 200.8h0M1251.5 233.4h0M1251.8 197.3h0M1251.6 248.2h0M1253 235.3h0M1252.6 259.3h0M1253 223.2h0M1253.9 240.6h0M1254.1 224h0M1254.6 262.7h0M1254.5 197.6h0M1255.6 195.8h0M1255.5 229.5h0M1255.6 215.9h0M1255.8 279.3h0M1256.9 225.8h0M1257.3 219.4h0M1257.1 224.4h0M1258.3 222.8h0M1258.4 223.2h0M1258 214h0M1259.6 259.6h0M1259.2 254.1h0M1259.3 235.3h0M1261.1 227.8h0M1261 227.3h0M1261.1 216.6h0M1260.7 220h0M1261.8 252h0M1262.5 240.1h0M1262.3 230.9h0M1263.6 257.2h0M1263.5 224.1h0M1263.3 235.2h0M1263.8 231.9h0M1265.1 251.3h0M1264.4 253.2h0M1264.7 234h0M1266.3 237.5h0M1265.9 222.5h0M1266 212.7h0M1267.1 243.1h0M1267.8 200.8h0M1267.7 257.2h0M1268.6 224.7h0M1269.1 222.3h0M1268.8 218.9h0M1270.5 197.9h0M1270 249.6h0M1270.2 224.1h0M1270.2 208.4h0M1271.2 233.8h0M1271 229h0M1271.4 258.9h0M1272.9 235.2h0M1273 193.9h0M1272.9 209.5h0M1272.6 230.4h0M1273.9 216h0M1274.2 232.1h0M1273.8 230.7h0M1275.4 228.2h0M1275.6 190.4h0M1275.3 219.6h0M1276.7 264.3h0M1277 181.7h0M1276.4 211.4h0M1277.8 249.3h0M1278.2 243.3h0M1277.7 209.7h0M1277.9 235h0M1279.3 270.7h0M1279.3 252.9h0M1279.4 217.7h0M1279.4 235.8h0M1280.8 237.5h0M1280.6 216.6h0M1280.9 210.1h0M1282.2 204.7h0M1282.1 245.5h0M1281.6 210.8h0M1283.3 270.4h0M1283.6 221.8h0M1283.1 216.6h0M1284.3 230.2h0M1284.6 192.3h0M1284.5 171.6h0M1285.8 217.5h0M1285.8 206.6h0M1285.9 183.3h0M1287.1 246.3h0M1287.5 218.1h0M1287.6 222.9h0M1288.5 221.2h0M1288.2 230.8h0M1288.9 215.3h0M1290 266.7h0M1290 176.4h0M1289.8 177.5h0M1291 238.6h0M1291.2 280.5h0M1290.8 236.1h0M1292.5 215.6h0M1292.4 128.3h0M1292.2 307.5h0M1293.8 265.3h0M1294.2 258.9h0M1294.2 174.2h0M1294 204.8h0M1295.5 230h0M1295.3 204.5h0M1295 288.3h0M1296.4 234.2h0M1296.9 221.2h0M1296.8 206h0M1297.9 223.4h0M1297.5 162.1h0M1297.5 231h0M1299 231.4h0M1298.9 259.1h0M1299.2 278.6h0M1299.1 248.1h0M1300.8 178.8h0M1300.2 235.3h0M1300.3 279.5h0M1300.2 179h0M1301.4 98.1h0M1301.5 250h0M1301.6 267.3h0M1303 293.3h0M1303.1 223.5h0M1303.3 209.2h0M1304.8 219.8h0M1304.7 186.5h0M1304.8 224.6h0M1305.4 230.8h0M1305.5 285.2h0M1305.4 255.1h0M1306 196h0M1307.3 277.3h0M1306.8 223.5h0M1307.1 170.1h0M1306.7 253h0M1308.6 160.6h0M1308.6 170.4h0M1308.1 229.7h0M1310 220.3h0M1309.5 162.7h0M1309.5 183.2h0M1310.8 221.7h0M1311.3 143.5h0M1311.2 218.8h0M1312.6 245.8h0M1312.2 223.4h0M1312.3 201.5h0M1313.5 227.5h0M1313.3 231.5h0M1314 249h0M1315.3 254.1h0M1314.8 158.8h0M1314.6 187.1h0M1316.4 218.8h0M1316.1 212.4h0M1316.6 275.3h0M1317.8 212.6h0M1317.7 227.5h0M1317.9 247.5h0M1317.8 228.3h0M1319.3 163.6h0M1319.1 225.2h0M1319.3 226.7h0M1319 204.8h0M1320 271.1h0M1320.4 181.4h0M1320.6 225.1h0M1321.3 256.4h0M1321.7 298.9h0M1321.7 208.8h0M1321.5 225.5h0M1323.2 297.3h0M1323.2 126.8h0M1322.5 230.1h0M1322.6 219.5h0M1324.1 219h0M1324.4 238.6h0M1324.5 143.1h0M1325.6 270.8h0M1325.1 144.4h0M1325.9 286.9h0M1325.7 301.9h0M1326.9 233.4h0M1326.9 253.1h0M1327.2 227.9h0M1328.4 271.8h0M1328.2 217.2h0M1327.9 232.4h0M1328.5 214h0M1329.3 267.3h0M1329.7 229.2h0M1329.7 285.3h0M1329.5 205.8h0M1331.2 205.6h0M1330.5 271.8h0M1331.1 229.4h0M1332 219.6h0M1331.8 232.5h0M1332.4 202.1h0M1333.6 235.9h0M1333.7 219.9h0M1333.2 259.4h0M1334.8 166.1h0M1334.9 208.5h0M1334.4 231.6h0M1334.7 164.1h0M1336.3 262.9h0M1335.7 201.1h0M1335.9 206.7h0M1337.1 218.2h0M1337.7 230.3h0M1337 121.2h0M1339 139h0M1338.4 224.3h0M1338.6 217h0M1338.7 171.4h0M1340.3 200.1h0M1340.2 240.6h0M1340 154.3h0M1341 216.7h0M1341.4 221.3h0M1341.6 206.7h0M1341.5 214.1h0M1342.5 107.3h0M1342.7 221.4h0M1343 206.8h0M1343.8 211.1h0M1343.8 260.1h0M1344.4 212.7h0M1345.5 153.3h0M1345.4 257.2h0M1345.6 157.5h0M1346.6 163.9h0M1347 192.2h0M1346.3 255h0M1348.3 213.1h0M1347.9 270.6h0M1347.6 211.7h0M1347.6 242.9h0M1349.5 237.3h0M1349 224.1h0M1349.5 212.3h0M1351 203.8h0M1351 188.5h0M1350.4 202.5h0M1350.5 223.6h0M1351.7 133h0M1351.6 238.9h0M1351.7 227.7h0M1353.1 222.7h0M1353.3 253.5h0M1353 235.5h0M1354.9 224.2h0M1354.5 221.9h0M1354.3 235.9h0M1356 226.2h0M1356.2 216h0M1356.2 230.7h0M1356.1 209h0M1356.8 253.5h0M1357.1 241.3h0M1357.2 204.9h0M1358.3 241.7h0M1358.5 214.9h0M1358.4 96.8h0M1359.6 235.6h0M1359.4 232h0M1359.7 223.5h0M1361.5 209h0M1360.9 200.3h0M1360.9 221.1h0M1361.2 157.4h0M1362.2 155.7h0M1362.7 221.5h0M1362.8 207.1h0M1363.8 224.5h0M1364.2 166.4h0M1364 213.1h0M1363.8 255.8h0M1364.8 227.1h0M1365.1 213.6h0M1365 214.4h0M1366.6 213h0M1366.2 176.5h0M1366.6 260h0M1366.1 212.5h0M1367.9 206.6h0M1368.1 256.7h0M1367.4 224.1h0M1368.9 129.8h0M1369.3 226.5h0M1369 182.8h0M1370.1 219.2h0M1370.1 227.7h0M1370.1 218h0M1370.5 223.8h0M1371.9 218.5h0M1371.9 160h0M1371.6 207.6h0M1371.5 245.1h0M1372.8 220.6h0M1373.2 244h0M1372.7 114.2h0M1374.2 255h0M1374.1 202.5h0M1374.1 254.1h0M1375.8 227.6h0M1376 231.3h0M1375.9 241.6h0M1377 194.9h0M1377.1 218.7h0M1376.6 202.7h0M1378.4 216.4h0M1378.1 246h0M1378 252.2h0M1379.6 242.6h0M1379.7 210h0M1379.4 215.3h0M1381 217.3h0M1381 260.5h0M1381.3 226.5h0M1380.9 210.6h0M1382.1 222.2h0M1382.4 184.2h0M1382.3 213.6h0M1383.4 228.9h0M1383.7 204.8h0M1383.8 202.3h0M1384.5 258.5h0M1384.6 227.9h0M1385.2 239.9h0M1386.5 248h0M1386.4 209.5h0M1386.1 250.9h0M1386.4 232h0M1387.8 251.1h0M1387.2 192.9h0M1387.6 212.5h0M1389.2 218.1h0M1389.1 277.7h0M1389.1 232.4h0M1388.9 259.6h0M1390.5 233.8h0M1390.1 164.8h0M1390.3 249.8h0M1390.2 306.6h0M1391.1 251.2h0M1391.2 169.9h0M1391.4 153.3h0M1391.3 311.4h0M1392.9 289.9h0M1393 278.1h0M1392.8 212.3h0M1394.5 277h0M1393.9 199.5h0M1394.2 247.7h0M1395.3 124.4h0M1395.8 262.7h0M1395.3 271.1h0M1395.8 159.5h0M1397.1 286.4h0M1397.1 219.4h0M1397 258.4h0M1397.9 211.6h0M1398 213.8h0M1398.5 230.4h0M1399.8 197.1h0M1399.5 172.1h0M1399.2 202.8h0M1400.5 209.6h0M1401.1 223.5h0M1400.4 261.4h0M1400.7 252.8h0M1402.1 220h0M1402.3 171.6h0M1402.4 174.2h0M1403.6 241.5h0M1403 200.8h0M1403.7 170.7h0M1405.1 280.4h0M1404.3 171.9h0M1404.6 212.7h0M1406.1 201.1h0M1405.7 309.5h0M1406.3 223.1h0M1407.5 243.9h0M1407 154.8h0M1407.3 208h0M1408.8 218.5h0M1408.8 227.9h0M1408.9 223.6h0M1409.6 254.8h0M1410.2 156.4h0M1410.1 206.4h0M1411.6 219.8h0M1410.9 223.4h0M1411.4 141.5h0M1413 211.3h0M1412.9 163.9h0M1412.8 269.2h0M1414.2 207.3h0M1414.1 197.8h0M1414.3 145.1h0M1413.9 170.5h0M1414.9 207.5h0M1415 199.4h0M1415.4 253.3h0M1416.5 213.9h0M1416.9 227.6h0M1416.2 181.7h0M1417.6 222.4h0M1417.7 265.7h0M1418.1 219.6h0M1417.8 211.9h0M1419.5 183.4h0M1418.9 192.1h0M1419.1 227.5h0M1420.7 219h0M1420.4 249.7h0M1420.4 255.7h0M1422.2 224.7h0M1422.2 180.4h0M1421.6 213.4h0M1423.1 249.2h0M1423.3 204.2h0M1423.4 229.9h0M1424.4 236.7h0M1424.2 234.1h0M1424.8 244.3h0M1425.6 221.5h0M1426 209.3h0M1425.7 215.3h0M1427.3 213.5h0M1426.8 231.3h0M1427.4 179.2h0M1428.1 274.1h0M1428.5 203.7h0M1428.8 196.5h0M1428.6 202.3h0M1429.5 221.9h0M1429.7 170.3h0M1429.7 178.8h0M1431.1 185.9h0M1431.3 183.7h0M1431.4 252.6h0M1431.3 245.7h0M1432.2 199.7h0M1432.3 219.8h0M1432.4 231.7h0M1433.8 248.9h0M1433.7 209.2h0M1433.8 223.4h0M1434.1 208.2h0M1435.2 208.9h0M1434.9 186h0M1434.9 209.5h0M1436 202.6h0M1436.6 176.4h0M1436.1 210.7h0M1437.6 215h0M1437.4 181.6h0M1438.1 194h0M1437.6 195.6h0M1439.2 252.7h0M1439.1 201.9h0M1439.1 213.4h0M1440.1 186.9h0M1440.2 242.2h0M1440.2 221.7h0M1441.6 220.7h0M1441.8 166.9h0M1441.5 196.7h0M1443.2 204h0M1443 233.2h0M1442.9 282.9h0M1444 196.2h0M1444.5 287h0M1444.4 205.7h0M1445.7 184.2h0M1445.5 214.7h0M1446 178.3h0M1445.7 168.1h0M1447.1 246.2h0M1446.7 206h0M1446.8 180.6h0M1448.4 268.1h0M1448.6 199.7h0M1447.9 185.1h0M1449.2 144.2h0M1449.4 156.6h0M1449.9 268.4h0M1450.7 181.5h0M1450.8 199.7h0M1451.3 201.9h0M1452 208.2h0M1452 180.5h0M1452.6 197h0M1453.7 200h0M1453.2 191.8h0M1453.8 216.6h0M1454.9 139.8h0M1454.7 174.7h0M1454.9 269.6h0M1456.2 195.4h0M1455.8 203.2h0M1456.4 187.2h0M1457.8 280.5h0M1457.5 232.5h0M1457.6 265.3h0M1458.4 212h0M1458.9 202.1h0M1459.1 196.9h0M1459.1 235.9h0M1460.4 186h0M1460.5 197.6h0M1460.5 179.7h0M1461.8 237.6h0M1461.3 242.4h0M1461.6 224.2h0M1463.1 219.6h0M1462.9 206.2h0M1463.1 178.9h0M1464.4 220.7h0M1464.2 245.3h0M1464.4 248.5h0M1464.4 225h0M1465.1 197.5h0M1465.5 199.9h0M1465.3 254.5h0M1466.7 220.9h0M1466.5 178.6h0M1466.6 201.9h0M1468.1 207.9h0M1468.1 267.1h0M1467.9 209.8h0M1469.5 224.2h0M1469.8 257.2h0M1469.1 206.4h0M1470.7 257.7h0M1470.4 193.3h0M1470.6 207.7h0M1472.2 201h0M1472.2 179.3h0M1472.1 215.4h0M1472.2 193.5h0M1473.3 193.9h0M1473.5 259.9h0M1473.6 201.3h0M1474.3 225.1h0M1475 180.9h0M1474.9 247.8h0M1475.6 177.2h0M1475.9 255.4h0M1476.2 209h0M1476 184.7h0M1477 189.8h0M1477.3 221.1h0M1476.9 249.3h0M1478.8 211h0M1478.6 284h0M1478.6 230.5h0M1480.1 154.4h0M1479.6 209.1h0M1479.8 177.9h0M1481.4 246.4h0M1481.6 256.3h0M1481.1 168.9h0M1482.3 220.5h0M1482.8 199.1h0M1482.9 153.9h0M1483.9 241.4h0M1484.2 169.8h0M1483.8 122.3h0M1483.6 175.5h0M1485.3 235.4h0M1485.1 183.3h0M1485.5 183.1h0M1486.5 142.3h0M1486.2 214.9h0M1486.3 196.3h0M1488 203.9h0M1487.5 208.3h0M1487.5 176.1h0M1487.7 197.5h0M1489.3 223.9h0M1489 180.3h0M1489 204.5h0M1489.1 217.7h0M1490.7 172.4h0M1490.3 138.1h0M1490.7 214.8h0M1491.8 210.2h0M1492 225.1h0M1492.1 192.7h0M1492.9 165h0M1493.3 191.5h0M1493.4 203.8h0M1494.7 189.8h0M1494.8 161.1h0M1494.8 183.5h0M1494.7 214h0M1495.5 195.4h0M1495.5 242.1h0M1495.8 181.6h0M1497.3 188.7h0M1497.4 201.8h0M1497.2 191.1h0M1498.4 135.5h0M1498.3 174.9h0M1498.5 230.7h0M1498.4 223.5h0M1499.4 214.8h0M1499.6 195.9h0M1499.9 215.7h0M1500.8 181.4h0M1500.8 173.8h0M1500.7 190.4h0M1502.3 203.2h0M1502.1 218.7h0M1502.3 269.3h0M1503.4 200.7h0M1503.7 197.2h0M1503.6 175h0M1503.7 225.5h0M1505.3 181.4h0M1504.7 231.1h0M1505.2 207.3h0M1506.6 139.3h0M1506.4 169.1h0M1506.3 198.2h0M1507.6 146.9h0M1507.7 218.2h0M1507.8 258.5h0M1509.3 242.3h0M1508.8 202.8h0M1508.9 236.7h0M1510.5 175.3h0M1510.3 213.1h0M1510 235.4h0M1510.6 206.6h0M1512 209.4h0M1511.5 235.9h0M1511.3 213h0M1513 168.4h0M1513.3 207.8h0M1512.8 191h0M1513.9 245.3h0M1514.5 169.1h0M1514.1 259h0M1513.9 213.8h0M1515.5 191.4h0M1515.9 172h0M1515.3 196h0M1516.9 205.5h0M1516.5 187.7h0M1517 210.2h0M1516.9 238.8h0M1518 225.1h0M1517.9 191.3h0M1518.1 285.7h0M1519.2 181.1h0M1519.6 286.8h0M1519.2 281.6h0M1520.9 160.5h0M1520.9 201.6h0M1521 158.3h0M1522.2 188.2h0M1522.5 151.4h0M1521.8 185.4h0M1523.4 185.2h0M1523.8 229.7h0M1523.2 245.7h0M1523.2 214.1h0M1524.9 209.4h0M1524.5 223.4h0M1524.4 204.1h0M1525.9 178.1h0M1525.9 136.6h0M1525.9 209.9h0M1527.7 207.5h0M1527.4 216.1h0M1527.1 199.4h0M1528.5 234.4h0M1529.1 270.8h0M1528.9 188.8h0M1530.1 252h0M1530.4 164.3h0M1529.9 234.4h0M1529.8 185.3h0M1531.3 191.6h0M1531.3 222.6h0M1531.5 176.5h0M1532.6 298.7h0M1532.5 253.5h0M1533 201.5h0M1534.3 269.8h0M1534 254.2h0M1534.2 224.8h0M1535.7 214h0M1535.6 252.7h0M1535.1 135.2h0M1535.6 266.6h0M1536.7 253h0M1536.3 214.6h0M1536.7 211.1h0M1538.2 223.2h0M1538.2 187.1h0M1537.8 238.4h0M1539.2 211.7h0M1539.6 274.2h0M1539.7 240h0M1540.7 269.9h0M1540.8 231.1h0M1540.6 233.1h0M1541.7 155.8h0M1542.2 254.8h0M1542.2 213.1h0M1543.6 189.1h0M1543.6 184.9h0M1543.5 274.9h0M1543.5 283.4h0M1544.6 199.6h0M1544.4 207.1h0M1544.5 233.2h0M1545.7 213.8h0M1545.6 248h0M1546.2 253.7h0M1547.1 219.1h0M1547.1 251.2h0M1547 251.8h0M1548.5 293h0M1548.9 228.7h0M1548.2 176.9h0M1548.8 269.1h0M1550.1 232.9h0M1549.8 202.4h0M1550.2 231.4h0M1549.9 232.5h0M1551.2 210.9h0M1551 223.8h0M1551.1 227.9h0M1552.9 223.7h0M1552.4 227.8h0M1552.2 262.7h0M1554 239.9h0M1553.7 266.3h0M1554.2 239h0M1555 220.1h0M1554.8 192.9h0M1555.5 233.3h0M1554.8 252.5h0M1556.5 229.8h0M1556.6 232.2h0M1556.7 215.9h0M1556.6 266.2h0M1558.2 227.2h0M1557.7 233.9h0M1557.7 210.2h0M1559.4 247.8h0M1559.4 220.8h0M1558.9 219.2h0M1560.2 232.7h0M1560.4 253.5h0M1560.1 209.5h0M1562 218.1h0M1561.4 233.6h0M1561.4 227.3h0M1561.9 225.1h0M1563.2 213.1h0M1562.9 207.8h0M1563.4 225.6h0M1563 210.4h0M1564.3 220.1h0M1564.2 173.3h0M1564 239h0M1565.9 185.7h0M1565.5 177.1h0M1565.4 215.7h0M1567.4 226.7h0M1567.1 226.8h0M1566.7 240.1h0M1568 261.3h0M1568.3 218.6h0M1568.4 204.4h0M1569.5 222.8h0M1569.9 291.5h0M1569.6 224.4h0M1569.3 205.7h0M1570.6 230.8h0M1571.3 168.7h0M1570.9 238.3h0M1570.8 228.5h0M1572.6 252.8h0M1572.1 209.2h0M1572.1 198.8h0M1572.1 213.9h0M1573.4 229.1h0M1573.5 285.4h0M1573.7 204.5h0M1574.9 247.1h0M1575.2 165.8h0M1575.2 216.5h0M1576.6 230.6h0M1576.2 184.2h0M1576.6 227.4h0M1577.9 222.9h0M1577.3 244.2h0M1577.2 200.5h0M1579.2 203.9h0M1578.8 202.8h0M1578.8 282.2h0M1580.4 224.8h0M1580.4 230.8h0M1580.5 227.5h0M1581.6 204.4h0M1581.4 224.8h0M1581.9 176.5h0M1582.5 306.6h0M1582.7 255.9h0M1582.8 215.7h0M1584.5 180.8h0M1584.2 230.8h0M1584 260.9h0M1585.8 157.1h0M1585.7 285.7h0M1585.9 171.1h0M1586.7 242h0M1586.4 204.2h0M1586.6 214.5h0M1586.9 233.8h0M1588.3 278.5h0M1587.9 238.3h0M1587.8 211.3h0M1589.3 245h0M1589.8 157.3h0M1589.4 215h0M1591 221.4h0M1590.4 222.6h0M1590.5 224.6h0M1590.5 232.9h0M1591.8 268.9h0M1592.2 232h0M1592.1 254.2h0M1593.1 173.9h0M1593.7 264.3h0M1593.1 279.4h0M1594.7 238.3h0M1595 221.4h0M1594.9 231.3h0M1595.7 158.8h0M1595.9 202.7h0M1596 211.5h0M1595.7 232.5h0M1597.5 217h0M1597.4 229.4h0M1597.5 258.5h0M1598.4 235.7h0M1598.5 248.6h0M1598.3 144h0M1598.4 227.6h0M1599.9 188.6h0M1600.3 223.6h0M1600.3 244.6h0M1600.4 236.6h0M1601.7 198.1h0M1601.6 249.2h0M1601.5 231h0M1601.5 221.3h0M1602.8 218.7h0M1602.6 227.9h0M1602.7 156.4h0M1604.1 222.2h0M1604.3 219.4h0M1604.3 134.6h0M1604.9 129.2h0M1605.1 249.1h0M1605.5 267.4h0M1606.9 198.9h0M1606.9 217.3h0M1606.6 220h0M1607.6 186.5h0M1607.6 266h0M1607.7 218.1h0M1609 226.6h0M1609.1 207.6h0M1608.9 259.2h0M1609.3 226.8h0M1610.9 235.5h0M1610.3 213.3h0M1610.4 162.3h0M1611.6 151.2h0M1611.8 205.2h0M1611.8 216.1h0M1613.5 213.2h0M1612.9 169.5h0M1612.9 169h0M1614.9 282.3h0M1614.8 234.8h0M1614.4 205.6h0M1616.1 172.6h0M1616.1 218.2h0M1616 137.1h0M1617 212.2h0M1616.9 242.2h0M1616.9 217.1h0M1618.9 228.5h0M1618.5 286.2h0M1618.1 260h0M1619.7 218.2h0M1620 273.2h0M1620.1 210.9h0M1620.8 140h0M1621 236.3h0M1621.1 209.7h0M1621.2 239h0M1622.7 170h0M1622.2 218.1h0M1622.4 251.2h0M1624.1 217.7h0M1623.8 227.6h0M1623.7 245.5h0M1625.4 213.1h0M1624.8 272.2h0M1625.1 223.4h0M1626.7 248.6h0M1626.5 228.6h0M1626.4 240.6h0M1628 250.5h0M1627.4 230.9h0M1627.8 212.3h0M1629.1 235.1h0M1629.4 224.9h0M1628.8 224.6h0M1630.4 220.9h0M1630 194.1h0M1630.5 223.5h0M1631.8 148.4h0M1631.7 172.5h0M1631.6 279.5h0M1631.8 242.4h0M1633.2 227.2h0M1632.9 228.9h0M1632.9 269.8h0M1633 180.3h0M1634.3 241.4h0M1634.1 312.5h0M1634.5 221h0M1635.9 222.4h0M1635.9 257.9h0M1636 173.5h0M1637.2 189.9h0M1636.6 221.2h0M1637.2 215.2h0M1636.9 216.3h0M1638.3 237.7h0M1638.6 270.1h0M1638.6 218.3h0M1639.6 224.3h0M1639.5 251h0M1639.4 297.5h0M1641.2 225.3h0M1640.6 217.9h0M1641.2 221h0M1641.1 218.7h0M1642.3 288.7h0M1642.5 239.5h0M1642.2 211.9h0M1642.3 260.9h0M1643.5 152.1h0M1643.4 208.6h0M1643.3 212h0M1644.7 191.7h0M1644.9 232.3h0M1645.2 129.7h0M1646.5 203.8h0M1646 210.7h0M1646.5 180.3h0M1647.9 227h0M1647.5 181.3h0M1647.9 230.5h0M1648.9 233.8h0M1649 238.5h0M1648.9 239.2h0M1649.8 214.8h0M1650.3 219h0M1650.2 264.7h0M1651.6 236.2h0M1651.2 226.4h0M1651.3 217h0M1652.6 160.3h0M1653.1 174.4h0M1652.9 197h0M1654.2 219.9h0M1654.4 206.1h0M1654.2 253h0M1655.8 220.9h0M1655.3 216.2h0M1655.3 251.4h0M1655.4 215h0M1656.4 198.6h0M1656.4 269.1h0M1657.1 246.1h0M1658.2 251.3h0M1658 213.2h0M1657.7 213.6h0M1659.5 183.6h0M1659.7 229h0M1659.8 250.1h0M1661.1 233.1h0M1660.9 186.1h0M1661.1 253.3h0M1662.1 211.3h0M1662.2 221h0M1662.1 245.7h0M1663.3 243.4h0M1663.5 216.1h0M1663.7 156.6h0M1663.3 262.3h0M1665 245.3h0M1665 288.8h0M1665 273.4h0M1664.5 216h0M1666.3 206.5h0M1666.4 292.9h0M1665.7 235.6h0M1667.1 217h0M1667.5 203h0M1667.6 263.2h0M1667.4 229.9h0M1668.8 236.2h0M1668.8 172.6h0M1668.6 294.8h0M1669.7 233.7h0M1670 230.4h0M1670.3 266.1h0M1669.6 217.9h0M1671.6 223.5h0M1671.5 222.3h0M1670.9 250.3h0M1673 236h0M1672.7 224.2h0M1672.3 210.3h0M1672.7 230.1h0M1673.9 224.6h0M1673.9 242.8h0M1673.7 259.7h0M1675.2 236.8h0M1675.3 180.3h0M1675.3 295.1h0M1676.7 228.4h0M1676.7 217.9h0M1676.5 223.3h0M1678.2 227.8h0M1677.9 232.4h0M1678.2 228.3h0M1678.9 235.5h0M1679.1 276.2h0M1679.2 189.3h0M1679.2 214h0M1680.3 202.2h0M1680.6 240.8h0M1680.4 195.6h0M1680.7 258.5h0M1681.5 239.1h0M1682 227.3h0M1682.2 213.5h0M1683.1 295h0M1683.2 234.1h0M1683.2 202.4h0M1684.3 230.5h0M1684.1 231.1h0M1684.5 255.2h0M1684.7 226.7h0M1685.4 233.1h0M1685.7 223.6h0M1686.2 216.9h0M1685.6 225.7h0M1687.4 193.5h0M1687.4 209.9h0M1686.8 215.4h0M1687.4 223.4h0M1688.7 166.7h0M1688.1 257.5h0M1688.5 213.3h0M1689.6 211.5h0M1689.6 214.7h0M1689.7 250.7h0M1690.7 267.7h0M1691.2 190.1h0M1690.9 265.6h0M1692.3 241.9h0M1692.4 227.6h0M1692 269.6h0M1693.9 216.5h0M1693.4 198h0M1693.9 220.3h0M1693.7 212.7h0M1695.3 274.5h0M1695 222.4h0M1695.4 224.1h0M1696.4 224.5h0M1696.7 238h0M1696.4 230.7h0M1698 210.4h0M1697.9 236.4h0M1697.9 217.5h0M1698 225.9h0M1698.7 230.7h0M1698.6 207.8h0M1698.9 226.4h0M1700.2 247.9h0M1700.3 202.9h0M1699.9 203h0M1701.8 225.4h0M1701.8 220.7h0M1701.4 236.4h0M1702.8 193.6h0M1702.9 214.2h0M1702.7 231h0M1704.6 204.3h0M1704.3 265.3h0M1704.3 226.7h0M1704.5 208h0M1705.2 192.7h0M1705.4 235.2h0M1705.5 209.6h0M1707.3 224h0M1707.2 259.5h0M1707.2 217.4h0M1707.9 223.7h0M1708 221.2h0M1707.9 217.5h0M1709.8 220.4h0M1709.2 183h0M1709.8 250.4h0M1711.2 184.1h0M1710.8 182.7h0M1710.9 221.6h0M1710.7 213.7h0M1712.2 209.2h0M1712.3 188.7h0M1712.1 212.6h0M1712.1 221h0M1713.2 216.8h0M1713.9 264.5h0M1713.8 177.8h0M1715.1 220h0M1714.8 202.5h0M1714.6 205.3h0M1715.1 167.4h0M1716.4 199.8h0M1716.2 248.6h0M1716.5 213.2h0M1717.1 216.3h0M1717.7 229.3h0M1717.3 258.4h0M1718.9 244h0M1718.9 267h0M1718.9 161h0M1720.4 170h0M1720.1 202.1h0M1719.7 217.8h0M1721.5 184.6h0M1721.4 211.9h0M1721.6 166.5h0M1721.2 206.8h0M1723 150.6h0M1722.4 234.3h0M1723.1 203.7h0M1723.8 209.1h0M1724.3 195.1h0M1723.8 240.3h0M1724 144.6h0M1725.1 216.9h0M1725.4 210.7h0M1725.2 278.8h0M1726.4 219.7h0M1726.6 110.1h0M1726.5 218.9h0M1727.8 205.4h0M1728.3 237h0M1728.4 259.5h0M1727.8 264.2h0M1729.2 227.4h0M1729.2 220h0M1729.7 200.7h0M1730.8 216.4h0M1730.5 220.4h0M1730.9 190.2h0M1731.7 200.8h0M1732.2 186.2h0M1732.2 223.9h0M1733.3 214.3h0M1733 189.5h0M1733 245.1h0M1735 228.6h0M1734.9 227.4h0M1734.6 199.1h0M1735.8 221.2h0M1736.2 144.6h0M1736 183.7h0M1737.5 216.4h0M1737.2 267.5h0M1737.2 194.6h0M1738.4 187.4h0M1738.2 221.5h0M1738.3 205.2h0M1738.7 218.2h0M1740.3 236.3h0M1739.7 209.5h0M1739.7 242h0M1741.1 234h0M1741.1 247.2h0M1741.6 201.6h0M1742.4 216.3h0M1742.7 171.8h0M1742.6 215.1h0M1744 243.4h0M1743.8 207h0M1743.7 262.7h0M1745.4 181.8h0M1745.5 189.7h0M1745.2 207.3h0M1746.5 237.8h0M1746.5 211.8h0M1746.7 291.8h0M1746.8 241.5h0M1748 177.4h0M1747.6 215.4h0M1747.6 273.5h0M1748.9 196h0M1749 223.2h0M1749 181h0M1750.5 159h0M1750.5 206.5h0M1750.8 218.3h0M1751.6 156.3h0M1752 246.3h0M1751.7 270h0M1753.5 214.4h0M1753 105.9h0M1753.2 199.5h0M1753.1 236.4h0M1754.4 234h0M1754.8 313.5h0M1754.5 204h0M1755.7 252.7h0M1755.4 164.4h0M1755.9 201.7h0M1757.2 210.2h0M1757.4 268.9h0M1756.8 125.9h0M1758.6 158h0M1758.2 229.1h0M1758.2 268.4h0M1760.1 220.4h0M1760 194.1h0M1759.8 257.3h0M1761 169.2h0M1760.9 139.3h0M1761.1 213.3h0M1762.4 215.2h0M1762.5 148.2h0M1762.2 169.3h0M1763.4 230.8h0M1763.4 211.6h0M1763.9 177.1h0M1764.7 293h0M1765.3 230.1h0M1765 188.4h0M1765.9 225.3h0M1766.3 101.4h0M1766 190h0M1767.7 200.1h0M1767.7 231.6h0M1767.7 169.2h0M1768.9 225h0M1769.1 229.6h0M1768.8 215.1h0M1770.3 221.8h0M1770.5 138.7h0M1770 130.6h0M1771.2 193.9h0M1771.4 162.2h0M1771.5 215.8h0M1771.3 157h0M1772.6 229.8h0M1772.8 219.6h0M1772.8 209.9h0M1773.8 201.8h0M1774.3 211.8h0M1774.5 234.2h0M1775.6 232.4h0M1775.9 234.8h0M1775.6 149.1h0M1777 195.9h0M1777.2 217.9h0M1776.5 211.3h0M1777.2 224.5h0M1778.1 203.1h0M1778.2 207.4h0M1778.5 201h0M1779.2 201.7h0M1779.2 200h0M1779.5 199.6h0M1781 244.6h0M1781.2 254h0M1781.2 205.3h0M1782.3 193.3h0M1782.3 150.7h0M1782.1 221h0M1783.1 235.5h0M1783.4 179.4h0M1783.8 184.8h0M1784.9 209.8h0M1785.1 201.9h0M1784.5 217.8h0M1785.7 186.4h0M1786.1 264.2h0M1785.7 233.8h0M1787.5 200.1h0M1787.2 206h0M1787.2 203.4h0M1788.9 208.7h0M1789.1 172h0M1789 258.5h0M1790.1 202.9h0M1790.1 241.1h0M1789.9 205.6h0M1789.7 191.6h0M1791.2 235.9h0M1791.1 190.6h0M1791.3 208.2h0M1792.8 192.7h0M1792.4 243.6h0M1793 202.2h0M1793.7 226.7h0M1794.4 205.7h0M1793.7 208h0M1795.6 172.3h0M1795.7 249.7h0M1794.9 174.3h0M1796.3 185.2h0M1796.7 249.6h0M1797 200.8h0M1798.1 212.8h0M1797.8 224.1h0M1798.2 212.5h0M1799.2 287.1h0M1799.6 180.3h0M1799.3 189.7h0M1800.7 211h0M1800.5 190.5h0M1800.2 193.9h0M1800.8 191.9h0M1801.7 202.2h0M1802.2 213.7h0M1801.7 223.2h0M1802.9 228.7h0M1803.6 168.7h0M1803 254.9h0M1804.6 252.7h0M1804.5 215.5h0M1804.5 191.8h0M1805.7 146.1h0M1805.8 212h0M1805.7 207h0M1807 217.1h0M1806.8 202.9h0M1807.4 209.4h0M1808.9 132.3h0M1808.7 234.5h0M1808.3 211.6h0M1810 223h0M1810.1 211.2h0M1809.9 142h0M1809.9 171.3h0M1811.1 196.1h0M1811.1 181.4h0M1811.4 250h0M1811 153.1h0M1812.5 200h0M1812.6 230.8h0M1812.5 202.1h0M1813.8 196.7h0M1813.6 206.2h0M1813.5 209.8h0M1814.8 172h0M1815 203.2h0M1815.2 228.9h0M1816.3 165.3h0M1816.7 202.2h0M1816.7 211h0M1816.8 195.1h0M1818.1 215.9h0M1818.1 210.2h0M1817.4 195.3h0M1819.4 154.8h0M1818.8 205.5h0M1819.4 129h0M1820.2 179.5h0M1820.5 203h0M1820.1 165.5h0M1821.6 174h0M1821.7 207h0M1822.1 203.4h0M1823.3 236.6h0M1822.8 210h0M1822.7 220.3h0M1824.5 136h0M1824.7 213.5h0M1824.1 206.9h0M1825.7 123.8h0M1825.9 179.7h0M1825.9 185.5h0M1827.2 199.7h0M1827.3 257.3h0M1827.4 200.3h0M1828.2 225.9h0M1828.4 185.3h0M1828.1 177.5h0M1829.5 254h0M1830 206.5h0M1829.5 189.4h0M1829.9 199.8h0M1830.6 203.3h0M1831.2 212.7h0M1831.3 191.9h0M1832.5 210.8h0M1831.9 202.2h0M1832.5 279.6h0M1832.1 246.6h0M1833.2 215.3h0M1833.4 232.2h0M1833.5 196.6h0M1834.9 201.5h0M1834.5 218.2h0M1834.6 189.6h0M1834.6 220.2h0M1836.3 208.4h0M1836.2 188.7h0M1835.9 185.6h0M1836.5 195.7h0M1837.4 220.6h0M1837.6 250.1h0M1837.6 205h0M1837.8 171.6h0M1838.8 207h0M1839.2 206h0M1838.8 145h0M1840.4 189.3h0M1840.3 219.1h0M1840.6 281.7h0M1840 199.9h0M1841.3 209.9h0M1841.6 189.5h0M1841.1 172.4h0M1841.3 192.6h0M1842.9 197.9h0M1843 232.9h0M1843.2 183.7h0M1844.4 220.3h0M1844.1 202.8h0M1844.4 203.9h0M1845.9 192.2h0M1845.1 220.6h0M1845.2 197.2h0M1845.5 187.8h0M1847.1 198.2h0M1846.6 229.5h0M1846.5 135.6h0M1848.5 159.3h0M1848.2 199h0M1848.4 177.5h0M1849.4 162.8h0M1849.2 214.6h0M1849.3 206.5h0M1849.5 165.8h0M1850.9 183.4h0M1850.7 217.4h0M1850.5 171.2h0M1852.1 197.5h0M1852.3 245h0M1852.2 193.8h0M1851.7 222.3h0M1853.7 204h0M1853.5 210.4h0M1853.3 190.2h0M1853.5 204.4h0M1854.8 203.1h0M1854.7 198.9h0M1854.6 231.1h0M1855.8 151.3h0M1856.1 183.4h0M1856.3 252.5h0M1856.1 198.3h0M1857.1 190.6h0M1857 198.9h0M1857.5 228.4h0M1858.9 215.3h0M1858.9 234.7h0M1858.6 199.1h0M1859 219.6h0M1859.8 262.4h0M1860.1 204.9h0M1859.9 207.9h0M1861.5 180.7h0M1861.7 190.1h0M1860.9 204.6h0M1861.2 183.3h0M1863 143.6h0M1862.5 182.5h0M1862.4 182.5h0M1863.7 197.8h0M1864 179.9h0M1863.8 168.8h0M1865.5 202.6h0M1865.4 204.9h0M1865.4 202.8h0M1866.8 214h0M1866.7 190.8h0M1866.3 150.3h0M1867.9 225.3h0M1868 183.4h0M1867.9 209.6h0M1867.9 219.5h0M1869.4 191.3h0M1869.4 194.7h0M1869.2 204h0M1869.2 231.8h0M1870.8 216.7h0M1870.5 208.6h0M1870.5 196.3h0M1871.6 224.1h0M1871.9 198.8h0M1871.9 249.9h0M1872 200.2h0M1873 200.8h0M1873.2 217.9h0M1873.1 255.1h0M1873.4 197.7h0M1874.5 178.6h0M1874.3 206.1h0M1874.4 234.3h0M1874.3 194.2h0M1875.4 147.8h0M1876 159.1h0M1876.2 210.5h0M1877.2 211.3h0M1877.1 239.1h0M1877.4 199.2h0M1878.4 251.3h0M1878.6 186.6h0M1878.5 200.9h0M1879.7 249h0M1880.1 184.5h0M1879.8 250.9h0M1880.9 121.9h0M1880.7 227h0M1881.2 196.7h0M1882.6 218.7h0M1882.8 122.2h0M1882.7 160.6h0M1883.5 219.4h0M1883.5 171.6h0M1883.5 184.9h0M1884.7 233.5h0M1885.3 182.8h0M1884.8 169.3h0M1886 193.5h0M1886.4 133.6h0M1886.1 210.5h0M1887.5 202.7h0M1887.5 125.3h0M1888.1 129.8h0M1889.1 192.9h0M1889 206.4h0M1889 160h0M1890.3 198.1h0M1890.3 214.3h0M1890.6 197.3h0M1892 180.1h0M1891.8 165.5h0M1892.1 179h0M1893.3 201.5h0M1892.8 262.9h0M1893.2 158.1h0M1894.5 151.8h0M1894.5 122.8h0M1894.3 231.5h0M1895.3 195.4h0M1895.7 172.1h0M1895.4 209.1h0M1895.6 217.7h0M1896.9 107.7h0M1896.6 97h0M1896.7 207.8h0M1898.5 195.8h0M1898.4 201.8h0M1897.9 175.5h0M1898.6 188.7h0M1899.6 198.6h0M1899.2 254.6h0M1899.9 217h0M1900.8 157h0M1901 210.9h0M1900.9 194.3h0M1902 181.6h0M1902 238.4h0M1902.1 173h0M1903.5 170.1h0M1903.6 196.5h0M1903.5 123h0M1905 187.2h0M1904.7 187.3h0M1905.1 188.6h0M1905.8 174h0M1906.2 148.9h0M1906 182.1h0M1907.6 229.6h0M1907.2 149.8h0M1907.3 189.6h0M1908.6 178.1h0M1908.7 174.2h0M1908.5 167h0M1909.7 185.8h0M1909.9 179.9h0M1910 120.8h0M1909.9 146.2h0M1911.2 178h0M1911.1 194.5h0M1911.5 178.9h0M1911.6 196.3h0M1912.5 191.9h0M1912.9 190.1h0M1913.1 193.8h0M1913 165.2h0M1914.5 128.7h0M1913.9 134.4h0M1914.4 180.5h0M1913.8 148.7h0M1915.3 218.7h0M1915.2 201.4h0M1915.1 226h0M1915.3 183.8h0M1916.8 228.9h0M1916.4 115.4h0M1916.8 178.9h0M1917.1 229h0M1918.3 218.1h0M1918 154.6h0M1918.2 91.9h0M1917.9 200.9h0M1919.5 225.1h0M1919.3 126.6h0M1919.5 153.7h0M1920.3 192h0M1920.9 210.2h0M1921 177.9h0M1922.1 130.8h0M1922.1 218.9h0M1922.2 139.1h0M1923.2 187.1h0M1923.3 184.9h0M1923.6 176.4h0M1924.8 136.1h0M1925 126.1h0M1924.8 172.1h0M1925.7 181.4h0M1926.2 216.5h0M1926.2 183.9h0M1925.8 190h0M1927.5 225.6h0M1927.4 191.1h0M1927.4 190.4h0M1928.6 156.9h0M1928.8 187.1h0M1928.6 258.1h0M1930.2 172.7h0M1929.8 152.8h0M1929.7 182.3h0M1931.5 194.6h0M1931 179.9h0M1930.9 132.3h0M1932.2 118.6h0M1932.4 160.2h0M1932.3 162.8h0M1932.2 151.8h0M1934.3 155.6h0M1934.1 206.3h0M1933.9 229h0M1933.7 168.9h0M1935.3 228.3h0M1935.3 147h0M1935 189.8h0M1934.9 176h0M1936.8 143.1h0M1936.5 181.2h0M1936.6 145.1h0M1938.2 181.5h0M1938.1 214.3h0M1937.5 140.9h0M1938.8 230.9h0M1939 289.9h0M1938.9 177.8h0M1940.7 224.7h0M1940.3 259.7h0M1940.3 213.1h0M1942.1 226.2h0M1941.9 217.3h0M1942 198.2h0M1943.4 233.5h0M1943.5 199.7h0M1943.4 246.6h0M1944.7 257.5h0M1944.4 269.8h0M1944.2 285.9h0M1945.7 188.4h0M1945.7 289.5h0M1946.1 147.1h0M1947.3 218.1h0M1947.2 209.8h0M1946.9 203h0M1947.2 224.8h0M1948.3 259.5h0M1948.2 142.7h0M1948.2 259.1h0M1949.5 285.7h0M1949.9 270.7h0M1949.9 274.4h0M1951.4 228h0M1951.3 261h0M1950.7 231.8h0M1952.4 245.1h0M1952.6 226h0M1952.5 184.3h0M1954 215.9h0M1953.8 263.2h0M1954 110.3h0M1954.9 162.8h0M1955.1 190.1h0M1955.2 219.6h0M1956.2 226.2h0M1956.3 186.9h0M1956 225.8h0M1957.7 253.9h0M1957.5 249.2h0M1957.7 213.4h0M1959.3 225.9h0M1959.1 266.3h0M1958.8 207.6h0M1960.6 224.6h0M1960.1 280.6h0M1960 179h0M1961.4 213.2h0M1962 215.7h0M1961.9 224.1h0M1963.2 303.8h0M1962.6 228.9h0M1962.7 216.3h0M1964 237.8h0M1964.2 222.6h0M1964.6 231.7h0M1965.2 225.4h0M1965.8 226.1h0M1965.6 282h0M1966.6 297.3h0M1967.1 227.8h0M1966.6 227.6h0M1967.2 239.6h0M1968.6 261.1h0M1968.5 270h0M1968.2 221.8h0M1968.4 226.5h0M1969.9 255.6h0M1969.3 244.9h0M1969.6 224.2h0M1970.6 253.8h0M1970.9 246.9h0M1971.2 241.6h0M1972.2 221.3h0M1972.4 230.7h0M1971.8 225.1h0M1973.1 217.1h0M1973.4 220.3h0M1973.2 223.6h0M1973.4 212.1h0M1974.5 266h0M1974.9 273.9h0M1974.4 218.7h0M1975.8 278.7h0M1976.1 219.6h0M1976 212.6h0M1975.9 259h0M1977.3 221.5h0M1977 212.6h0M1977.7 242h0M1978.4 209.2h0M1978.9 240h0M1978.5 225.4h0M1980.3 228.7h0M1979.7 253.2h0M1980 244.2h0M1981.7 187.3h0M1981 223.3h0M1981.5 221.8h0M1982.4 196.1h0M1982.9 234.8h0M1982.4 217h0M1983.8 269.1h0M1983.9 267.6h0M1984.2 231.8h0M1983.8 212.6h0M1985.2 199.3h0M1985.4 209.4h0M1985.5 202.1h0M1986.6 218.2h0M1987 213h0M1986.9 231.6h0M1986.6 231.7h0M1988.2 242.7h0M1988.2 229.3h0M1988.1 186.3h0M1989.7 205.7h0M1989 209.4h0M1989.6 238.2h0M1991 239.1h0M1990.6 213.7h0M1990.5 215h0M1990.7 223.4h0M1991.8 262.3h0M1992 203.2h0M1992.2 232.7h0M1993.4 223.3h0M1993.5 181.4h0M1993.3 238h0M1993.4 244.4h0M1995 245.8h0M1994.4 214.7h0M1994.2 230.6h0M1996 208.1h0M1996 234.6h0M1995.6 247.9h0M1997.3 220.3h0M1997.3 231.7h0M1997.2 191.5h0M1998.5 240.6h0M1998.4 224.3h0M1998.8 224.5h0M1999.8 220.8h0M2000.1 183.2h0M1999.5 262.8h0M2001.5 196h0M2001.2 215.9h0M2001.5 196.3h0M2002.4 209.9h0M2002.3 221.5h0M2002.9 218h0M2002.5 240h0M2003.8 235.6h0M2004 213.7h0M2003.9 233.4h0M2005.2 223.3h0M2005 164.7h0M2004.9 229.7h0M2006.4 234.2h0M2006.1 227h0M2006.3 226.5h0M2008.1 214.6h0M2007.9 236.4h0M2007.5 199.4h0M2008.9 213.4h0M2009 212.4h0M2009.1 167.2h0M2010.5 197h0M2010.3 214.4h0M2010.7 248h0M2010.3 200.9h0M2012.1 204.2h0M2011.9 242.3h0M2011.4 224.3h0M2013 227.2h0M2013.4 224.7h0M2012.9 198.3h0M2013.3 194.3h0M2014.3 219.4h0M2014.1 234.6h0M2014.4 228.8h0M2014.8 217.2h0M2015.7 227.4h0M2015.7 158.9h0M2015.6 258.6h0M2017.1 226.8h0M2017.2 210.6h0M2016.8 171.1h0M2017.1 232.5h0M2018.2 183.1h0M2018.1 154.5h0M2018.3 256.2h0M2018.5 203.9h0M2019.8 201.5h0M2019.9 206h0M2019.7 206.9h0M2021.3 226.3h0M2020.9 219h0M2021.2 242.9h0M2022.2 259h0M2022.6 231.2h0M2022 245.3h0M2023.2 142.9h0M2023.7 215.7h0M2023.6 217.9h0M2023.3 212.7h0M2025 219h0M2025.2 272.5h0M2024.7 250.1h0M2026.1 162.1h0M2026.1 154.3h0M2026.1 209.1h0M2027.4 225.8h0M2027.2 242.3h0M2027.8 216.3h0M2028.9 191.5h0M2028.6 231.4h0M2028.7 202.7h0M2030.6 270.1h0M2030 213.3h0M2029.9 242.5h0M2031.5 214.8h0M2031.3 223.3h0M2031.5 196.6h0M2032.9 185.2h0M2033 197.5h0M2032.8 267.1h0M2034.6 243h0M2034.5 220.1h0M2034.1 209h0M2035.8 177.7h0M2035.6 139.6h0M2035.4 220.1h0M2036.8 201.4h0M2036.5 243.2h0M2037.1 215h0M2038.1 205.6h0M2037.8 235.9h0M2038.3 184.5h0M2039.6 204.1h0M2039.6 221h0M2039.4 237h0M2040.7 172.1h0M2040.8 205.2h0M2041.1 171h0M2041.8 198.4h0M2041.9 187.6h0M2042.3 220.5h0M2042.3 160.3h0M2043.2 238.6h0M2043.8 178.2h0M2043.6 142.4h0M2044.7 196.8h0M2044.7 187h0M2044.5 187.8h0M2046.3 173.8h0M2046.4 193.7h0M2046.2 185.9h0M2047.7 189.5h0M2047.7 195.7h0M2047.2 195.6h0M2048.7 190h0M2048.5 174.4h0M2048.9 198.3h0M2050.1 217.7h0M2049.8 221.9h0M2050.2 169.4h0M2051.5 218.1h0M2051.5 207.2h0M2051.5 177.2h0M2051.5 185.3h0M2052.7 157.4h0M2052.9 190.3h0M2052.7 195.7h0M2052.8 180.7h0M2054 206.2h0M2054.3 175.1h0M2054.3 193.5h0M2055 195.9h0M2055.7 210.8h0M2054.9 214h0M2056.5 184.4h0M2056.6 188.8h0M2056.9 172h0M2056.3 194.4h0M2058.3 202h0M2057.6 231.2h0M2058 166h0M2057.6 181.7h0M2059.4 184.8h0M2059.3 166.8h0M2059.1 179.6h0M724.9 329.8h0M732.3 337.9h0M737.8 335.3h0M739 375.3h0M739 395.3h0M889 337.2h0M889 356.8h0M900.9 355.7h0M947.2 329h0M953.8 326h0M953.8 333.5h0M949 348.3h0M958.3 352h0M971.3 371.6h0M978.7 379.8h0M993.5 319.4h0M1109.5 316.8h0M1122.4 322.3h0M1196.5 321.6h0M1308.4 345.3h0M1315.1 352h0M1378.9 327.5h0M1388.1 331.2h0M1472.5 336h0M1477.7 327.5h0M1482.5 336h0M1525 376.7h0M1525 402.3h0M1599 320.1h0M1657.2 321.2h0M1726.7 312.7h0M1744.5 418.2h0M1797 332h0M1832.2 322.7h0M1903.3 353.4h0M1903.3 380h0M1903.3 396.7h0M1964.7 351.6h0M1964.7 413.4h0M1964.7 438.5h0M1995 303.5h0M723 81.5h0M912.7 77.8h0M700 99.3h0M906.4 91.9h0M915.7 95.2h0M1080.5 95.6h0" fill="none" stroke="#000" stroke-width="9.3" stroke-linecap="round"/>
<g stroke="#000" stroke-width="6.2" fill="none"><path d="M688 32.2V478H2065" stroke-width="6.5"/><line x1="676" y1="35.6" x2="688" y2="35.6"/><line x1="668.5" y1="75.8" x2="688" y2="75.8"/><line x1="676" y1="115.9" x2="688" y2="115.9"/><line x1="676" y1="156" x2="688" y2="156"/><line x1="668.5" y1="196.2" x2="688" y2="196.2"/><line x1="676" y1="236.3" x2="688" y2="236.3"/><line x1="676" y1="276.5" x2="688" y2="276.5"/><line x1="668.5" y1="316.6" x2="688" y2="316.6"/><line x1="676" y1="356.8" x2="688" y2="356.8"/><line x1="676" y1="396.9" x2="688" y2="396.9"/><line x1="668.5" y1="437.1" x2="688" y2="437.1"/><path d="M688.1 478V497.3M731.6 478V497.3M775.2 478V497.3M818.8 478V497.3M862.3 478V497.3M905.9 478V497.3M949.4 478V497.3M993 478V497.3M1036.5 478V497.3M1080 478V497.3M1123.6 478V497.3M1167.2 478V497.3M1210.7 478V497.3M1254.2 478V497.3M1297.8 478V497.3M1341.3 478V497.3M1384.9 478V497.3M1428.4 478V497.3M1472 478V497.3M1515.5 478V497.3M1559.1 478V497.3M1602.7 478V497.3M1646.2 478V497.3M1689.8 478V497.3M1733.3 478V497.3M1776.8 478V497.3M1820.4 478V497.3M1863.9 478V497.3M1907.5 478V497.3M1951 478V497.3M1994.6 478V497.3M2038.2 478V497.3"/></g>
<text class="tk" text-anchor="end" transform="translate(662 87.8) scale(1 1.04)">3</text>
<text class="tk" text-anchor="end" transform="translate(662 208.3) scale(1 1.04)">0</text>
<text class="tk" text-anchor="end" transform="translate(662 328.8) scale(1 1.04)">-3</text>
<text class="tk" text-anchor="end" transform="translate(662 449.2) scale(1 1.04)">-6</text>
<text class="tk" text-anchor="end" transform="translate(699.3 526.7) rotate(-45) scale(1 1.04)">1</text>
<text class="tk" text-anchor="end" transform="translate(742.9 526.7) rotate(-45) scale(1 1.04)">34</text>
<text class="tk" text-anchor="end" transform="translate(786.4 526.7) rotate(-45) scale(1 1.04)">67</text>
<text class="tk" text-anchor="end" transform="translate(830 526.7) rotate(-45) scale(1 1.04)">100</text>
<text class="tk" text-anchor="end" transform="translate(873.5 526.7) rotate(-45) scale(1 1.04)">133</text>
<text class="tk" text-anchor="end" transform="translate(917.1 526.7) rotate(-45) scale(1 1.04)">166</text>
<text class="tk" text-anchor="end" transform="translate(960.6 526.7) rotate(-45) scale(1 1.04)">199</text>
<text class="tk" text-anchor="end" transform="translate(1004.2 526.7) rotate(-45) scale(1 1.04)">232</text>
<text class="tk" text-anchor="end" transform="translate(1047.7 526.7) rotate(-45) scale(1 1.04)">265</text>
<text class="tk" text-anchor="end" transform="translate(1091.2 526.7) rotate(-45) scale(1 1.04)">298</text>
<text class="tk" text-anchor="end" transform="translate(1134.8 526.7) rotate(-45) scale(1 1.04)">331</text>
<text class="tk" text-anchor="end" transform="translate(1178.4 526.7) rotate(-45) scale(1 1.04)">364</text>
<text class="tk" text-anchor="end" transform="translate(1221.9 526.7) rotate(-45) scale(1 1.04)">397</text>
<text class="tk" text-anchor="end" transform="translate(1265.5 526.7) rotate(-45) scale(1 1.04)">430</text>
<text class="tk" text-anchor="end" transform="translate(1309 526.7) rotate(-45) scale(1 1.04)">463</text>
<text class="tk" text-anchor="end" transform="translate(1352.5 526.7) rotate(-45) scale(1 1.04)">496</text>
<text class="tk" text-anchor="end" transform="translate(1396.1 526.7) rotate(-45) scale(1 1.04)">529</text>
<text class="tk" text-anchor="end" transform="translate(1439.6 526.7) rotate(-45) scale(1 1.04)">562</text>
<text class="tk" text-anchor="end" transform="translate(1483.2 526.7) rotate(-45) scale(1 1.04)">595</text>
<text class="tk" text-anchor="end" transform="translate(1526.8 526.7) rotate(-45) scale(1 1.04)">628</text>
<text class="tk" text-anchor="end" transform="translate(1570.3 526.7) rotate(-45) scale(1 1.04)">661</text>
<text class="tk" text-anchor="end" transform="translate(1613.9 526.7) rotate(-45) scale(1 1.04)">694</text>
<text class="tk" text-anchor="end" transform="translate(1657.4 526.7) rotate(-45) scale(1 1.04)">727</text>
<text class="tk" text-anchor="end" transform="translate(1701 526.7) rotate(-45) scale(1 1.04)">760</text>
<text class="tk" text-anchor="end" transform="translate(1744.5 526.7) rotate(-45) scale(1 1.04)">793</text>
<text class="tk" text-anchor="end" transform="translate(1788 526.7) rotate(-45) scale(1 1.04)">826</text>
<text class="tk" text-anchor="end" transform="translate(1831.6 526.7) rotate(-45) scale(1 1.04)">859</text>
<text class="tk" text-anchor="end" transform="translate(1875.1 526.7) rotate(-45) scale(1 1.04)">892</text>
<text class="tk" text-anchor="end" transform="translate(1918.7 526.7) rotate(-45) scale(1 1.04)">925</text>
<text class="tk" text-anchor="end" transform="translate(1962.2 526.7) rotate(-45) scale(1 1.04)">958</text>
<text class="tk" text-anchor="end" transform="translate(2005.8 526.7) rotate(-45) scale(1 1.04)">991</text>
<text class="tk" text-anchor="end" transform="translate(2049.3 526.7) rotate(-45) scale(1 1.04)">1024</text>
<text class="b" font-size="36.5" text-anchor="middle" transform="translate(1374 603.7) scale(1 1.02)">Compound number</text>
<text class="b" font-size="37" text-anchor="middle" transform="translate(612.8 257) rotate(-90) scale(1 1.03)">Z score</text>
<text class="b" font-size="62.3" transform="translate(581.8 82.6) scale(0.985 1.045)">B</text>
<text class="b" font-size="36.7" fill="#a81be8" transform="translate(1257.5 65.6) scale(1 1.03)">RN-1-025</text>
<text class="b" font-size="36.8" fill="#fa0d0d" transform="translate(1836 69.9) scale(1 1.03)">LPS2336</text>
<g fill="#c420dc"><circle cx="1425.1" cy="66.2" r="4.5"/><circle cx="1425.1" cy="94.1" r="4.5"/><circle cx="1425.1" cy="104.2" r="4.5"/></g>
<g fill="#fa0d0d"><circle cx="1819.8" cy="46" r="4.5"/><circle cx="1819.8" cy="56.2" r="4.5"/><circle cx="1819.8" cy="65.4" r="4.5"/></g></g>
<g id="panelC"><path d="M88 721.2L134.6 748.1L134.6 801.9L88 828.8L41.4 801.9L41.4 748.1ZM52.1 752.7L86.6 732.8M125.3 755.1L125.3 794.9M52.1 797.3L86.6 817.2M134.6 748.1L180.5 721.4L226.4 748.1M302.5 811.6L273 828.8L226.4 801.9L226.4 748.1L273 721.2L319.6 748.1L319.6 781M339.5 813L365.8 828.4M365.8 828.4L442.8 783.8M416.3 809L443.1 793.6M407.7 794.2L434.5 778.7M641 710.8L687.1 737.4L687.1 790.6L641 817.2L594.9 790.6L594.9 737.4ZM604.2 744.3L604.2 783.7M642.3 722.3L676.4 742M642.3 805.7L676.4 786M687.1 737.4L733.1 710.8M733.1 710.8L759.6 726.1M779.2 757.3L779.2 790.6M779.2 790.6L751.8 806.4M687.1 790.6L713.8 806M728.2 711.8V675.3M738 711.8V675.3M871.5 631.2L917.7 657.9L917.7 711.3L871.5 738L825.3 711.3L825.3 657.9ZM834.6 664.8L834.6 704.4M872.9 642.7L907.1 662.5M872.9 726.5L907.1 706.7M798.7 726.3L825.3 711.3M871.5 790.5L917.8 817.2L917.8 870.8L871.5 897.5L825.2 870.8L825.2 817.2ZM834.5 824.2L834.5 863.8M872.9 802L907.2 821.8M872.9 886L907.2 866.2M779.2 790.6L825.2 817.2M917.8 817.2L946.2 800.7M917.8 870.8L946.2 887.5M979.3 888.5L1011.2 870.2" fill="none" stroke="#5e5e5e" stroke-width="2.2" stroke-linejoin="round" stroke-linecap="round"/>
<g class="at">
<text text-anchor="middle" transform="translate(319 811.8) scale(1 1.05)">N</text>
<text text-anchor="middle" transform="translate(458 784.8) scale(1 1.05)">N</text>
<text text-anchor="middle" transform="translate(732.7 668) scale(1 1.05)">O</text>
<text text-anchor="middle" transform="translate(778.4 747.9) scale(1 1.05)">N</text>
<text text-anchor="middle" transform="translate(732.6 826.9) scale(1 1.05)">N</text>
<text text-anchor="middle" transform="translate(732.6 859.7) scale(1 1.05)">H</text>
<text transform="translate(948.6 802.5) scale(1 1.05)">OH</text>
<text transform="translate(948.6 907.6) scale(1 1.05)">O</text>
</g>
<text class="b" font-size="37.1" text-anchor="middle" fill="#1c1c1c" transform="translate(231.4 960) scale(1 1.03)">LPS2336</text>
<text class="b" font-size="37.1" text-anchor="middle" fill="#1c1c1c" transform="translate(788.6 958.5) scale(1 1.03)">RN-1-025</text>
<text class="b" font-size="62.3" transform="translate(40.2 637.6) scale(0.95 1.035)">C</text></g>
<g id="panelD"><path d="M390.1 1215.3L528.3 1295.1L528.3 1454.7L390.1 1534.5L251.9 1454.7L251.9 1295.1ZM390.1 1321.7L436.2 1348.3L436.2 1401.5L390.1 1374.9Z" fill="#fdecf1" fill-rule="evenodd" stroke="#dbb2be" stroke-width="1.5"/>
<polygon points="390.1,1321.7 436.2,1348.3 436.2,1401.5 390.1,1428.1 344,1401.5 344,1348.3" fill="none" stroke="#c4c4c4" stroke-width="1.2" stroke-dasharray="1.2 1.6"/>
<polygon points="390.1,1268.5 482.2,1321.7 482.2,1428.1 390.1,1481.3 298,1428.1 298,1321.7" fill="none" stroke="#c4c4c4" stroke-width="1.2" stroke-dasharray="1.2 1.6"/>
<polygon points="390.1,1162.1 574.4,1268.5 574.4,1481.3 390.1,1587.7 205.8,1481.3 205.8,1268.5" fill="none" stroke="#c4c4c4" stroke-width="1.2" stroke-dasharray="1.2 1.6"/>
<polygon points="390.1,1108.9 620.5,1241.9 620.5,1507.9 390.1,1640.9 159.7,1507.9 159.7,1241.9" fill="none" stroke="#c4c4c4" stroke-width="1.2" stroke-dasharray="1.2 1.6"/>
<path d="M390.1 1374.9L390.1 1108.9M390.1 1374.9L620.5 1241.9M390.1 1374.9L620.5 1507.9M390.1 1374.9L390.1 1640.9M390.1 1374.9L159.7 1507.9M390.1 1374.9L159.7 1241.9" fill="none" stroke="#b3aeb0" stroke-width="1.1"/>
<polygon points="390.1,1250 453.4,1338.4 442.5,1405.4 390.1,1455 297,1429.1 344.2,1348.1" fill="none" stroke="#e8212d" stroke-width="2.8" stroke-linejoin="round"/>
<g fill="#e8212d"><circle cx="390.1" cy="1250" r="3.6"/><circle cx="453.4" cy="1338.4" r="3.6"/><circle cx="442.5" cy="1405.4" r="3.6"/><circle cx="390.1" cy="1455" r="3.6"/><circle cx="297" cy="1429.1" r="3.6"/><circle cx="344.2" cy="1348.1" r="3.6"/></g>
<g class="rl">
<text x="377.3" y="1104.6">LIPO</text>
<text x="74.6" y="1235.2">FLEX</text>
<text x="641.7" y="1239.5">SIZE</text>
<text x="43.4" y="1527.8">INSATU</text>
<text x="646.3" y="1527.8">POLAR</text>
<text x="347.8" y="1671.2">INSOLU</text>
</g>
<text class="b" font-size="62.3" transform="translate(38.9 1083.7) scale(0.955 1.035)">D</text><g class="tb">
<text class="b" x="815.8" y="1068.5" textLength="369.8" lengthAdjust="spacingAndGlyphs">Physicochemical properties</text>
<text x="815.8" y="1107.7" textLength="109.7" lengthAdjust="spacingAndGlyphs">Formula</text>
<text x="1209.2" y="1107.7" textLength="17.4" lengthAdjust="spacingAndGlyphs">C</text><text font-size="18.9" x="1226.6" y="1113.2" textLength="21.2" lengthAdjust="spacingAndGlyphs">14</text><text x="1247.9" y="1107.7" textLength="20.4" lengthAdjust="spacingAndGlyphs">H</text><text font-size="18.9" x="1268.2" y="1113.2" textLength="21.2" lengthAdjust="spacingAndGlyphs">18</text><text x="1289.4" y="1107.7" textLength="21.1" lengthAdjust="spacingAndGlyphs">N</text><text font-size="18.9" x="1310.5" y="1113.2" textLength="10.6" lengthAdjust="spacingAndGlyphs">2</text>
<text x="815.8" y="1146.9" textLength="316.3" lengthAdjust="spacingAndGlyphs">Molecular weight (MW)</text>
<text x="1209.2" y="1146.9" textLength="173" lengthAdjust="spacingAndGlyphs">214.31 g.mol</text><text font-size="18.9" x="1382.2" y="1135.4" textLength="21" lengthAdjust="spacingAndGlyphs">−1</text>
<text x="815.8" y="1186.1" textLength="213.6" lengthAdjust="spacingAndGlyphs">Nb heavy atoms</text>
<text x="1209.2" y="1186.1" textLength="33.1" lengthAdjust="spacingAndGlyphs">16</text>
<text x="815.8" y="1225.3" textLength="151.1" lengthAdjust="spacingAndGlyphs">Faction Csp</text><text font-size="18.9" x="966.9" y="1213.8" textLength="10.6" lengthAdjust="spacingAndGlyphs">3</text>
<text x="1209.2" y="1225.3" textLength="58" lengthAdjust="spacingAndGlyphs">0.50</text>
<text x="815.8" y="1264.5" textLength="255.9" lengthAdjust="spacingAndGlyphs">Nb rotatable bonds</text>
<text x="1209.2" y="1264.5" textLength="16.6" lengthAdjust="spacingAndGlyphs">3</text>
<text x="815.8" y="1303.7" textLength="364.4" lengthAdjust="spacingAndGlyphs">Nb H-bond acceptors (HBA)</text>
<text x="1209.2" y="1303.7" textLength="16.6" lengthAdjust="spacingAndGlyphs">2</text>
<text x="815.8" y="1342.9" textLength="330.2" lengthAdjust="spacingAndGlyphs">Nb H-bond donors (HBD)</text>
<text x="1209.2" y="1342.9" textLength="16.6" lengthAdjust="spacingAndGlyphs">0</text>
<text x="815.8" y="1382.1" textLength="315.7" lengthAdjust="spacingAndGlyphs">Polar surface area (PSA)</text>
<text x="1209.2" y="1382.1" textLength="100.9" lengthAdjust="spacingAndGlyphs">27.03 Å</text><text font-size="18.9" x="1310.1" y="1370.6" textLength="10.6" lengthAdjust="spacingAndGlyphs">2</text>
<text x="815.8" y="1421.3" textLength="101.5" lengthAdjust="spacingAndGlyphs">Volume</text>
<text x="1209.2" y="1421.3" textLength="117.4" lengthAdjust="spacingAndGlyphs">220.48 Å</text><text font-size="18.9" x="1326.6" y="1409.8" textLength="10.6" lengthAdjust="spacingAndGlyphs">3</text>
<text x="815.8" y="1460.5" textLength="291.2" lengthAdjust="spacingAndGlyphs">Lipophilicity (miLog P)</text>
<text x="1209.2" y="1460.5" textLength="58" lengthAdjust="spacingAndGlyphs">2.71</text>
<text x="815.8" y="1499.7" textLength="293.7" lengthAdjust="spacingAndGlyphs">Druglikeness (Lipinski)</text>
<text x="1209.2" y="1499.7" textLength="139" lengthAdjust="spacingAndGlyphs">0 violation</text>
<text class="b" x="815.8" y="1578.1" textLength="275" lengthAdjust="spacingAndGlyphs">Medicinal chemistry</text>
<text x="815.8" y="1617.3" textLength="77.8" lengthAdjust="spacingAndGlyphs">PAINS</text>
<text x="1209.2" y="1617.3" textLength="85.8" lengthAdjust="spacingAndGlyphs">0 alert</text>
<text x="815.8" y="1656.5" textLength="288.1" lengthAdjust="spacingAndGlyphs">Synthetic accessibility</text>
<text x="1209.2" y="1656.5" textLength="58" lengthAdjust="spacingAndGlyphs">1.39</text>
<text class="b" x="1509.3" y="1068.5" textLength="240" lengthAdjust="spacingAndGlyphs">Pharmacokinetics</text>
<text x="1509.3" y="1107.7" textLength="183.3" lengthAdjust="spacingAndGlyphs">GI Absorption</text>
<text x="1902.7" y="1107.7" textLength="60.5" lengthAdjust="spacingAndGlyphs">High</text>
<text x="1509.3" y="1146.9" textLength="229.1" lengthAdjust="spacingAndGlyphs">BBB permeability</text>
<text x="1902.7" y="1146.9" textLength="42.6" lengthAdjust="spacingAndGlyphs">Yes</text>
<text x="1509.3" y="1186.1" textLength="209.2" lengthAdjust="spacingAndGlyphs">Water solubility</text>
<text x="1902.7" y="1186.1" textLength="97.9" lengthAdjust="spacingAndGlyphs">Soluble</text>
<text x="1509.3" y="1225.3" textLength="189.2" lengthAdjust="spacingAndGlyphs">P-gp substrate</text>
<text x="1902.7" y="1225.3" textLength="38.4" lengthAdjust="spacingAndGlyphs">No</text>
<text x="1509.3" y="1264.5" textLength="223.1" lengthAdjust="spacingAndGlyphs">CYP1A2 inhibitor</text>
<text x="1902.7" y="1264.5" textLength="38.4" lengthAdjust="spacingAndGlyphs">No</text>
<text x="1509.3" y="1303.7" textLength="238.1" lengthAdjust="spacingAndGlyphs">CYP2C19 inhibitor</text>
<text x="1902.7" y="1303.7" textLength="38.4" lengthAdjust="spacingAndGlyphs">No</text>
<text x="1509.3" y="1342.9" textLength="221.6" lengthAdjust="spacingAndGlyphs">CYP2C9 inhibitor</text>
<text x="1902.7" y="1342.9" textLength="38.4" lengthAdjust="spacingAndGlyphs">No</text>
<text x="1509.3" y="1382.1" textLength="224.3" lengthAdjust="spacingAndGlyphs">CYP2D6 inhibitor</text>
<text x="1902.7" y="1382.1" textLength="42.6" lengthAdjust="spacingAndGlyphs">Yes</text>
<text x="1509.3" y="1421.3" textLength="223.1" lengthAdjust="spacingAndGlyphs">CYP3A4 inhibitor</text>
<text x="1902.7" y="1421.3" textLength="38.4" lengthAdjust="spacingAndGlyphs">No</text>
<text x="1509.3" y="1460.5" textLength="305.3" lengthAdjust="spacingAndGlyphs">Skin permeation (Log K</text><text font-size="18.9" x="1814.6" y="1466" textLength="11" lengthAdjust="spacingAndGlyphs">p</text><text x="1825.6" y="1460.5" textLength="9.9" lengthAdjust="spacingAndGlyphs">)</text>
<text x="1902.7" y="1460.5" textLength="146.4" lengthAdjust="spacingAndGlyphs">−5.65 cm/s</text>
<text x="1509.3" y="1499.7" textLength="262" lengthAdjust="spacingAndGlyphs">Bioavailability score</text>
<text x="1902.7" y="1499.7" textLength="58" lengthAdjust="spacingAndGlyphs">0.55</text>
<text class="b" x="1509.3" y="1578.1" textLength="345" lengthAdjust="spacingAndGlyphs">Toxicity and mutagenicity</text>
<text x="1509.3" y="1617.3" textLength="131.7" lengthAdjust="spacingAndGlyphs">Ames test</text>
<text x="1902.7" y="1617.3" textLength="118.1" lengthAdjust="spacingAndGlyphs">mutagen</text>
<text x="1509.3" y="1656.5" textLength="202.9" lengthAdjust="spacingAndGlyphs">Carcinogenicity</text>
<text x="1902.7" y="1656.5" textLength="112.5" lengthAdjust="spacingAndGlyphs">negative</text>
<text x="1509.3" y="1695.7" textLength="205.3" lengthAdjust="spacingAndGlyphs">hERG inhibition</text>
<text x="1902.7" y="1695.7" textLength="164.3" lengthAdjust="spacingAndGlyphs">medium risk</text>
</g></g>
</svg></body></html>
